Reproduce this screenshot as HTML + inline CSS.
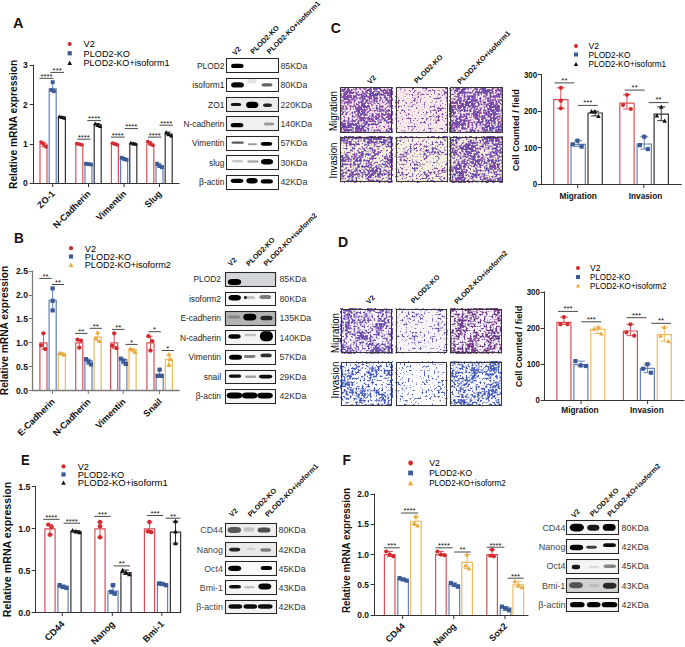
<!DOCTYPE html>
<html><head><meta charset="utf-8"><style>
html,body{margin:0;padding:0;background:#fff;}
svg{display:block;font-family:"Liberation Sans", sans-serif;}
</style></head><body>
<svg width="685" height="647" viewBox="0 0 685 647">
<defs><filter id="bl0" x="-50%" y="-100%" width="200%" height="300%"><feGaussianBlur stdDeviation="0.55"/></filter><filter id="bl1" x="-50%" y="-100%" width="200%" height="300%"><feGaussianBlur stdDeviation="0.45"/></filter><filter id="mc1" x="0" y="0" width="100%" height="100%" color-interpolation-filters="sRGB"><feTurbulence type="fractalNoise" baseFrequency="0.5" numOctaves="1" seed="10" result="t1"/><feColorMatrix in="t1" type="matrix" values="1 0 0 0 0 0 1 0 0 0 0 0 1 0 0 0 0 0 0 1" result="h"/><feTurbulence type="fractalNoise" baseFrequency="0.09" numOctaves="2" seed="60" result="t2"/><feColorMatrix in="t2" type="matrix" values="1 0 0 0 0 0 1 0 0 0 0 0 1 0 0 0 0 0 0 1" result="l"/><feComposite in="h" in2="l" operator="arithmetic" k1="0" k2="0.70" k3="0.30" k4="0" result="m"/><feColorMatrix in="m" type="matrix" values="0 0.837 0 0 0.055 0 0.086 0 0 0.249 0 -0.060 0 0 0.693 9 0 0 0 -3.870"/></filter><filter id="mc2" x="0" y="0" width="100%" height="100%" color-interpolation-filters="sRGB"><feTurbulence type="fractalNoise" baseFrequency="0.5" numOctaves="1" seed="20" result="t1"/><feColorMatrix in="t1" type="matrix" values="1 0 0 0 0 0 1 0 0 0 0 0 1 0 0 0 0 0 0 1" result="h"/><feTurbulence type="fractalNoise" baseFrequency="0.09" numOctaves="2" seed="70" result="t2"/><feColorMatrix in="t2" type="matrix" values="1 0 0 0 0 0 1 0 0 0 0 0 1 0 0 0 0 0 0 1" result="l"/><feComposite in="h" in2="l" operator="arithmetic" k1="0" k2="0.70" k3="0.30" k4="0" result="m"/><feColorMatrix in="m" type="matrix" values="0 0.811 0 0 0.055 0 0.086 0 0 0.249 0 -0.078 0 0 0.706 9 0 0 0 -4.050"/></filter><filter id="mc3" x="0" y="0" width="100%" height="100%" color-interpolation-filters="sRGB"><feTurbulence type="fractalNoise" baseFrequency="0.5" numOctaves="1" seed="11" result="t1"/><feColorMatrix in="t1" type="matrix" values="1 0 0 0 0 0 1 0 0 0 0 0 1 0 0 0 0 0 0 1" result="h"/><feTurbulence type="fractalNoise" baseFrequency="0.09" numOctaves="2" seed="61" result="t2"/><feColorMatrix in="t2" type="matrix" values="1 0 0 0 0 0 1 0 0 0 0 0 1 0 0 0 0 0 0 1" result="l"/><feComposite in="h" in2="l" operator="arithmetic" k1="0" k2="0.70" k3="0.30" k4="0" result="m"/><feColorMatrix in="m" type="matrix" values="0 0.837 0 0 0.055 0 0.086 0 0 0.249 0 -0.060 0 0 0.693 9 0 0 0 -4.815"/></filter><filter id="mc4" x="0" y="0" width="100%" height="100%" color-interpolation-filters="sRGB"><feTurbulence type="fractalNoise" baseFrequency="0.5" numOctaves="1" seed="21" result="t1"/><feColorMatrix in="t1" type="matrix" values="1 0 0 0 0 0 1 0 0 0 0 0 1 0 0 0 0 0 0 1" result="h"/><feTurbulence type="fractalNoise" baseFrequency="0.09" numOctaves="2" seed="71" result="t2"/><feColorMatrix in="t2" type="matrix" values="1 0 0 0 0 0 1 0 0 0 0 0 1 0 0 0 0 0 0 1" result="l"/><feComposite in="h" in2="l" operator="arithmetic" k1="0" k2="0.70" k3="0.30" k4="0" result="m"/><feColorMatrix in="m" type="matrix" values="0 0.811 0 0 0.055 0 0.086 0 0 0.249 0 -0.078 0 0 0.706 9 0 0 0 -4.635"/></filter><filter id="mc5" x="0" y="0" width="100%" height="100%" color-interpolation-filters="sRGB"><feTurbulence type="fractalNoise" baseFrequency="0.5" numOctaves="1" seed="12" result="t1"/><feColorMatrix in="t1" type="matrix" values="1 0 0 0 0 0 1 0 0 0 0 0 1 0 0 0 0 0 0 1" result="h"/><feTurbulence type="fractalNoise" baseFrequency="0.09" numOctaves="2" seed="62" result="t2"/><feColorMatrix in="t2" type="matrix" values="1 0 0 0 0 0 1 0 0 0 0 0 1 0 0 0 0 0 0 1" result="l"/><feComposite in="h" in2="l" operator="arithmetic" k1="0" k2="0.70" k3="0.30" k4="0" result="m"/><feColorMatrix in="m" type="matrix" values="0 0.837 0 0 0.055 0 0.086 0 0 0.249 0 -0.060 0 0 0.693 9 0 0 0 -3.780"/></filter><filter id="mc6" x="0" y="0" width="100%" height="100%" color-interpolation-filters="sRGB"><feTurbulence type="fractalNoise" baseFrequency="0.5" numOctaves="1" seed="22" result="t1"/><feColorMatrix in="t1" type="matrix" values="1 0 0 0 0 0 1 0 0 0 0 0 1 0 0 0 0 0 0 1" result="h"/><feTurbulence type="fractalNoise" baseFrequency="0.09" numOctaves="2" seed="72" result="t2"/><feColorMatrix in="t2" type="matrix" values="1 0 0 0 0 0 1 0 0 0 0 0 1 0 0 0 0 0 0 1" result="l"/><feComposite in="h" in2="l" operator="arithmetic" k1="0" k2="0.70" k3="0.30" k4="0" result="m"/><feColorMatrix in="m" type="matrix" values="0 0.811 0 0 0.055 0 0.086 0 0 0.249 0 -0.078 0 0 0.706 9 0 0 0 -3.915"/></filter><filter id="mc7" x="0" y="0" width="100%" height="100%" color-interpolation-filters="sRGB"><feTurbulence type="fractalNoise" baseFrequency="0.5" numOctaves="1" seed="30" result="t1"/><feColorMatrix in="t1" type="matrix" values="1 0 0 0 0 0 1 0 0 0 0 0 1 0 0 0 0 0 0 1" result="h"/><feTurbulence type="fractalNoise" baseFrequency="0.09" numOctaves="2" seed="80" result="t2"/><feColorMatrix in="t2" type="matrix" values="1 0 0 0 0 0 1 0 0 0 0 0 1 0 0 0 0 0 0 1" result="l"/><feComposite in="h" in2="l" operator="arithmetic" k1="0" k2="0.70" k3="0.30" k4="0" result="m"/><feColorMatrix in="m" type="matrix" values="0 0.431 0 0 0.237 0 0.173 0 0 0.232 0 0.112 0 0 0.634 9 0 0 0 -4.095"/></filter><filter id="mc8" x="0" y="0" width="100%" height="100%" color-interpolation-filters="sRGB"><feTurbulence type="fractalNoise" baseFrequency="0.5" numOctaves="1" seed="40" result="t1"/><feColorMatrix in="t1" type="matrix" values="1 0 0 0 0 0 1 0 0 0 0 0 1 0 0 0 0 0 0 1" result="h"/><feTurbulence type="fractalNoise" baseFrequency="0.09" numOctaves="2" seed="90" result="t2"/><feColorMatrix in="t2" type="matrix" values="1 0 0 0 0 0 1 0 0 0 0 0 1 0 0 0 0 0 0 1" result="l"/><feComposite in="h" in2="l" operator="arithmetic" k1="0" k2="0.70" k3="0.30" k4="0" result="m"/><feColorMatrix in="m" type="matrix" values="0 0.302 0 0 0.127 0 0.345 0 0 0.189 0 0.173 0 0 0.644 9 0 0 0 -4.365"/></filter><filter id="mc9" x="0" y="0" width="100%" height="100%" color-interpolation-filters="sRGB"><feTurbulence type="fractalNoise" baseFrequency="0.5" numOctaves="1" seed="31" result="t1"/><feColorMatrix in="t1" type="matrix" values="1 0 0 0 0 0 1 0 0 0 0 0 1 0 0 0 0 0 0 1" result="h"/><feTurbulence type="fractalNoise" baseFrequency="0.09" numOctaves="2" seed="81" result="t2"/><feColorMatrix in="t2" type="matrix" values="1 0 0 0 0 0 1 0 0 0 0 0 1 0 0 0 0 0 0 1" result="l"/><feComposite in="h" in2="l" operator="arithmetic" k1="0" k2="0.70" k3="0.30" k4="0" result="m"/><feColorMatrix in="m" type="matrix" values="0 0.259 0 0 0.299 0 0.086 0 0 0.283 0 0.043 0 0 0.671 9 0 0 0 -4.950"/></filter><filter id="mc10" x="0" y="0" width="100%" height="100%" color-interpolation-filters="sRGB"><feTurbulence type="fractalNoise" baseFrequency="0.5" numOctaves="1" seed="41" result="t1"/><feColorMatrix in="t1" type="matrix" values="1 0 0 0 0 0 1 0 0 0 0 0 1 0 0 0 0 0 0 1" result="h"/><feTurbulence type="fractalNoise" baseFrequency="0.09" numOctaves="2" seed="91" result="t2"/><feColorMatrix in="t2" type="matrix" values="1 0 0 0 0 0 1 0 0 0 0 0 1 0 0 0 0 0 0 1" result="l"/><feComposite in="h" in2="l" operator="arithmetic" k1="0" k2="0.70" k3="0.30" k4="0" result="m"/><feColorMatrix in="m" type="matrix" values="0 0.302 0 0 0.127 0 0.345 0 0 0.189 0 0.173 0 0 0.644 9 0 0 0 -5.085"/></filter><filter id="mc11" x="0" y="0" width="100%" height="100%" color-interpolation-filters="sRGB"><feTurbulence type="fractalNoise" baseFrequency="0.5" numOctaves="1" seed="32" result="t1"/><feColorMatrix in="t1" type="matrix" values="1 0 0 0 0 0 1 0 0 0 0 0 1 0 0 0 0 0 0 1" result="h"/><feTurbulence type="fractalNoise" baseFrequency="0.09" numOctaves="2" seed="82" result="t2"/><feColorMatrix in="t2" type="matrix" values="1 0 0 0 0 0 1 0 0 0 0 0 1 0 0 0 0 0 0 1" result="l"/><feComposite in="h" in2="l" operator="arithmetic" k1="0" k2="0.70" k3="0.30" k4="0" result="m"/><feColorMatrix in="m" type="matrix" values="0 0.431 0 0 0.237 0 0.043 0 0 0.200 0 -0.043 0 0 0.584 9 0 0 0 -4.140"/></filter><filter id="mc12" x="0" y="0" width="100%" height="100%" color-interpolation-filters="sRGB"><feTurbulence type="fractalNoise" baseFrequency="0.5" numOctaves="1" seed="42" result="t1"/><feColorMatrix in="t1" type="matrix" values="1 0 0 0 0 0 1 0 0 0 0 0 1 0 0 0 0 0 0 1" result="h"/><feTurbulence type="fractalNoise" baseFrequency="0.09" numOctaves="2" seed="92" result="t2"/><feColorMatrix in="t2" type="matrix" values="1 0 0 0 0 0 1 0 0 0 0 0 1 0 0 0 0 0 0 1" result="l"/><feComposite in="h" in2="l" operator="arithmetic" k1="0" k2="0.70" k3="0.30" k4="0" result="m"/><feColorMatrix in="m" type="matrix" values="0 0.302 0 0 0.127 0 0.345 0 0 0.189 0 0.173 0 0 0.644 9 0 0 0 -4.185"/></filter></defs>
<rect width="685" height="647" fill="#fff"/>
<text transform="translate(13 27.8) scale(1.04 1)" font-size="14" font-weight="bold" fill="#1a1212">A</text>
<circle cx="69.7" cy="44" r="2.1" fill="#d42a2e"/>
<text x="83.5" y="47.31" font-size="9.2">V2</text>
<rect x="67.6" y="51.2" width="4.2" height="4.2" fill="#3b5a96"/>
<text x="83.5" y="56.61" font-size="9.2">PLOD2-KO</text>
<path d="M69.7 60.61L72 64.89L67.4 64.89Z" fill="#111111"/>
<text x="83.5" y="66.21" font-size="9.2" textLength="86" lengthAdjust="spacingAndGlyphs">PLOD2-KO+isoform1</text>
<path d="M40 183.4V144H47V183.4" fill="#fff" stroke="#dc4f58" stroke-width="1.2"/>
<path d="M49.2 183.4V88.84H56.2V183.4" fill="#fff" stroke="#6381b5" stroke-width="1.2"/>
<path d="M58.4 183.4V117.21H65.4V183.4" fill="#fff" stroke="#333333" stroke-width="1.2"/>
<path d="M75.8 183.4V144H82.8V183.4" fill="#fff" stroke="#dc4f58" stroke-width="1.2"/>
<path d="M85 183.4V164.09H92V183.4" fill="#fff" stroke="#6381b5" stroke-width="1.2"/>
<path d="M94.2 183.4V124.69H101.2V183.4" fill="#fff" stroke="#333333" stroke-width="1.2"/>
<path d="M111.4 183.4V144H118.4V183.4" fill="#fff" stroke="#dc4f58" stroke-width="1.2"/>
<path d="M120.6 183.4V158.58H127.6V183.4" fill="#fff" stroke="#6381b5" stroke-width="1.2"/>
<path d="M129.8 183.4V143.61H136.8V183.4" fill="#fff" stroke="#333333" stroke-width="1.2"/>
<path d="M146.8 183.4V144H153.8V183.4" fill="#fff" stroke="#dc4f58" stroke-width="1.2"/>
<path d="M156 183.4V165.67H163V183.4" fill="#fff" stroke="#6381b5" stroke-width="1.2"/>
<path d="M165.2 183.4V134.15H172.2V183.4" fill="#fff" stroke="#333333" stroke-width="1.2"/>
<line x1="43.5" y1="142.03" x2="43.5" y2="146.76" stroke="#dc4f58" stroke-width="1"/>
<line x1="41.37" y1="142.03" x2="45.63" y2="142.03" stroke="#dc4f58" stroke-width="1"/>
<line x1="41.37" y1="146.76" x2="45.63" y2="146.76" stroke="#dc4f58" stroke-width="1"/>
<circle cx="41.04" cy="142.03" r="1.9" fill="#d42a2e"/>
<circle cx="43.5" cy="144" r="1.9" fill="#d42a2e"/>
<circle cx="45.96" cy="146.76" r="1.9" fill="#d42a2e"/>
<line x1="52.7" y1="82.14" x2="52.7" y2="91.2" stroke="#6381b5" stroke-width="1"/>
<line x1="50.57" y1="82.14" x2="54.83" y2="82.14" stroke="#6381b5" stroke-width="1"/>
<line x1="50.57" y1="91.2" x2="54.83" y2="91.2" stroke="#6381b5" stroke-width="1"/>
<rect x="50.8" y="80.24" width="3.8" height="3.8" fill="#3b5a96"/>
<rect x="49.57" y="88.12" width="3.8" height="3.8" fill="#3b5a96"/>
<rect x="52.03" y="89.3" width="3.8" height="3.8" fill="#3b5a96"/>
<line x1="61.9" y1="116.42" x2="61.9" y2="118" stroke="#333333" stroke-width="1"/>
<line x1="59.77" y1="116.42" x2="64.03" y2="116.42" stroke="#333333" stroke-width="1"/>
<line x1="59.77" y1="118" x2="64.03" y2="118" stroke="#333333" stroke-width="1"/>
<path d="M59.44 114.32L61.54 118.23L57.34 118.23Z" fill="#111111"/>
<path d="M61.9 115.1L64 119.01L59.8 119.01Z" fill="#111111"/>
<path d="M64.36 115.89L66.46 119.8L62.26 119.8Z" fill="#111111"/>
<line x1="79.3" y1="143.61" x2="79.3" y2="144.79" stroke="#dc4f58" stroke-width="1"/>
<line x1="77.17" y1="143.61" x2="81.43" y2="143.61" stroke="#dc4f58" stroke-width="1"/>
<line x1="77.17" y1="144.79" x2="81.43" y2="144.79" stroke="#dc4f58" stroke-width="1"/>
<circle cx="76.84" cy="143.61" r="1.9" fill="#d42a2e"/>
<circle cx="79.3" cy="144.2" r="1.9" fill="#d42a2e"/>
<circle cx="81.76" cy="144.79" r="1.9" fill="#d42a2e"/>
<line x1="88.5" y1="163.7" x2="88.5" y2="164.49" stroke="#6381b5" stroke-width="1"/>
<line x1="86.37" y1="163.7" x2="90.63" y2="163.7" stroke="#6381b5" stroke-width="1"/>
<line x1="86.37" y1="164.49" x2="90.63" y2="164.49" stroke="#6381b5" stroke-width="1"/>
<rect x="84.14" y="161.8" width="3.8" height="3.8" fill="#3b5a96"/>
<rect x="86.6" y="162.19" width="3.8" height="3.8" fill="#3b5a96"/>
<rect x="89.06" y="162.59" width="3.8" height="3.8" fill="#3b5a96"/>
<line x1="97.7" y1="123.51" x2="97.7" y2="126.27" stroke="#333333" stroke-width="1"/>
<line x1="95.57" y1="123.51" x2="99.83" y2="123.51" stroke="#333333" stroke-width="1"/>
<line x1="95.57" y1="126.27" x2="99.83" y2="126.27" stroke="#333333" stroke-width="1"/>
<path d="M95.24 121.41L97.34 125.32L93.14 125.32Z" fill="#111111"/>
<path d="M97.7 122.98L99.8 126.89L95.6 126.89Z" fill="#111111"/>
<path d="M100.16 124.17L102.26 128.08L98.06 128.08Z" fill="#111111"/>
<line x1="114.9" y1="143.21" x2="114.9" y2="144.79" stroke="#dc4f58" stroke-width="1"/>
<line x1="112.77" y1="143.21" x2="117.03" y2="143.21" stroke="#dc4f58" stroke-width="1"/>
<line x1="112.77" y1="144.79" x2="117.03" y2="144.79" stroke="#dc4f58" stroke-width="1"/>
<circle cx="112.44" cy="143.21" r="1.9" fill="#d42a2e"/>
<circle cx="114.9" cy="144" r="1.9" fill="#d42a2e"/>
<circle cx="117.36" cy="144.79" r="1.9" fill="#d42a2e"/>
<line x1="124.1" y1="157.79" x2="124.1" y2="159.76" stroke="#6381b5" stroke-width="1"/>
<line x1="121.97" y1="157.79" x2="126.23" y2="157.79" stroke="#6381b5" stroke-width="1"/>
<line x1="121.97" y1="159.76" x2="126.23" y2="159.76" stroke="#6381b5" stroke-width="1"/>
<rect x="119.74" y="155.89" width="3.8" height="3.8" fill="#3b5a96"/>
<rect x="122.2" y="157.07" width="3.8" height="3.8" fill="#3b5a96"/>
<rect x="124.66" y="157.86" width="3.8" height="3.8" fill="#3b5a96"/>
<line x1="133.3" y1="142.82" x2="133.3" y2="144" stroke="#333333" stroke-width="1"/>
<line x1="131.17" y1="142.82" x2="135.43" y2="142.82" stroke="#333333" stroke-width="1"/>
<line x1="131.17" y1="144" x2="135.43" y2="144" stroke="#333333" stroke-width="1"/>
<path d="M130.84 140.71L132.94 144.62L128.74 144.62Z" fill="#111111"/>
<path d="M133.3 141.5L135.4 145.41L131.2 145.41Z" fill="#111111"/>
<path d="M135.76 141.89L137.86 145.81L133.66 145.81Z" fill="#111111"/>
<line x1="150.3" y1="141.64" x2="150.3" y2="145.18" stroke="#dc4f58" stroke-width="1"/>
<line x1="148.17" y1="141.64" x2="152.43" y2="141.64" stroke="#dc4f58" stroke-width="1"/>
<line x1="148.17" y1="145.18" x2="152.43" y2="145.18" stroke="#dc4f58" stroke-width="1"/>
<circle cx="147.84" cy="141.64" r="1.9" fill="#d42a2e"/>
<circle cx="150.3" cy="143.61" r="1.9" fill="#d42a2e"/>
<circle cx="152.76" cy="145.18" r="1.9" fill="#d42a2e"/>
<line x1="159.5" y1="163.7" x2="159.5" y2="167.25" stroke="#6381b5" stroke-width="1"/>
<line x1="157.37" y1="163.7" x2="161.63" y2="163.7" stroke="#6381b5" stroke-width="1"/>
<line x1="157.37" y1="167.25" x2="161.63" y2="167.25" stroke="#6381b5" stroke-width="1"/>
<rect x="155.14" y="161.8" width="3.8" height="3.8" fill="#3b5a96"/>
<rect x="157.6" y="164.16" width="3.8" height="3.8" fill="#3b5a96"/>
<rect x="160.06" y="165.35" width="3.8" height="3.8" fill="#3b5a96"/>
<line x1="168.7" y1="132.18" x2="168.7" y2="135.73" stroke="#333333" stroke-width="1"/>
<line x1="166.57" y1="132.18" x2="170.83" y2="132.18" stroke="#333333" stroke-width="1"/>
<line x1="166.57" y1="135.73" x2="170.83" y2="135.73" stroke="#333333" stroke-width="1"/>
<path d="M166.24 130.07L168.34 133.99L164.14 133.99Z" fill="#111111"/>
<path d="M168.7 132.04L170.8 135.96L166.6 135.96Z" fill="#111111"/>
<path d="M171.16 133.62L173.26 137.53L169.06 137.53Z" fill="#111111"/>
<line x1="33.5" y1="64.7" x2="33.5" y2="184" stroke="#333" stroke-width="1"/>
<line x1="33" y1="183.5" x2="179.5" y2="183.5" stroke="#333" stroke-width="1"/>
<line x1="29.7" y1="183.5" x2="33.5" y2="183.5" stroke="#333" stroke-width="1"/>
<text x="27.8" y="186.46" font-size="8.5" text-anchor="end" font-weight="bold" fill="#111">0</text>
<line x1="29.7" y1="144.5" x2="33.5" y2="144.5" stroke="#333" stroke-width="1"/>
<text x="27.8" y="147.06" font-size="8.5" text-anchor="end" font-weight="bold" fill="#111">1</text>
<line x1="29.7" y1="104.5" x2="33.5" y2="104.5" stroke="#333" stroke-width="1"/>
<text x="27.8" y="107.66" font-size="8.5" text-anchor="end" font-weight="bold" fill="#111">2</text>
<line x1="29.7" y1="65.5" x2="33.5" y2="65.5" stroke="#333" stroke-width="1"/>
<text x="27.8" y="68.26" font-size="8.5" text-anchor="end" font-weight="bold" fill="#111">3</text>
<line x1="52.7" y1="183.5" x2="52.7" y2="187" stroke="#333" stroke-width="1"/>
<line x1="88.5" y1="183.5" x2="88.5" y2="187" stroke="#333" stroke-width="1"/>
<line x1="124.1" y1="183.5" x2="124.1" y2="187" stroke="#333" stroke-width="1"/>
<line x1="159.5" y1="183.5" x2="159.5" y2="187" stroke="#333" stroke-width="1"/>
<line x1="39.4" y1="78.3" x2="53.5" y2="78.3" stroke="#333" stroke-width="0.9"/>
<text x="46.45" y="78.7" font-size="7.8" text-anchor="middle" fill="#111">****</text>
<line x1="50.3" y1="72.4" x2="64" y2="72.4" stroke="#333" stroke-width="0.9"/>
<text x="57.15" y="72.8" font-size="7.8" text-anchor="middle" fill="#111">***</text>
<line x1="77.3" y1="139.2" x2="90.4" y2="139.2" stroke="#333" stroke-width="0.9"/>
<text x="83.85" y="139.6" font-size="7.8" text-anchor="middle" fill="#111">****</text>
<line x1="87.3" y1="120.6" x2="101" y2="120.6" stroke="#333" stroke-width="0.9"/>
<text x="94.15" y="121" font-size="7.8" text-anchor="middle" fill="#111">****</text>
<line x1="111" y1="137.1" x2="124.7" y2="137.1" stroke="#333" stroke-width="0.9"/>
<text x="117.85" y="137.5" font-size="7.8" text-anchor="middle" fill="#111">****</text>
<line x1="124.7" y1="128.6" x2="137.9" y2="128.6" stroke="#333" stroke-width="0.9"/>
<text x="131.3" y="129" font-size="7.8" text-anchor="middle" fill="#111">****</text>
<line x1="148" y1="137.1" x2="161.5" y2="137.1" stroke="#333" stroke-width="0.9"/>
<text x="154.75" y="137.5" font-size="7.8" text-anchor="middle" fill="#111">****</text>
<line x1="159.5" y1="125.2" x2="173" y2="125.2" stroke="#333" stroke-width="0.9"/>
<text x="166.25" y="125.6" font-size="7.8" text-anchor="middle" fill="#111">****</text>
<text x="55.5" y="194.3" font-size="9.1" text-anchor="end" font-weight="bold" fill="#111" transform="rotate(-45 55.5 194.3)">ZO-1</text>
<text x="91.3" y="194.3" font-size="9.1" text-anchor="end" font-weight="bold" fill="#111" transform="rotate(-45 91.3 194.3)">N-Cadherin</text>
<text x="126.9" y="194.3" font-size="9.1" text-anchor="end" font-weight="bold" fill="#111" transform="rotate(-45 126.9 194.3)">Vimentin</text>
<text x="162.3" y="194.3" font-size="9.1" text-anchor="end" font-weight="bold" fill="#111" transform="rotate(-45 162.3 194.3)">Slug</text>
<text x="17.3" y="124.3" font-size="10.2" text-anchor="middle" font-weight="bold" fill="#111" transform="rotate(-90 17.3 124.3)" textLength="129.2" lengthAdjust="spacingAndGlyphs">Relative mRNA expression</text>
<text x="235.16" y="55.7" font-size="7.2" font-weight="bold" fill="#111" transform="rotate(-45 235.16 55.7)">V2</text>
<text x="253.26" y="54.5" font-size="7.2" font-weight="bold" fill="#111" transform="rotate(-45 253.26 54.5)">PLOD2-KO</text>
<text x="269.86" y="54.5" font-size="7.2" font-weight="bold" fill="#111" transform="rotate(-45 269.86 54.5)">PLOD2-KO+isoform1</text>
<rect x="226.1" y="58.3" width="52.5" height="14.8" fill="#fff"/>
<rect x="231.1" y="63.7" width="12.4" height="4.4" rx="3.3" ry="2.2" fill="#000" opacity="1.00" filter="url(#bl0)"/>
<rect x="226.5" y="58.5" width="52" height="14" fill="none" stroke="#2b2626" stroke-width="1.05"/>
<text x="224.4" y="68.72" font-size="8.4" text-anchor="end" fill="#1e1e1e">PLOD2</text>
<text x="280.4" y="68.87" font-size="8.8" fill="#333">85KDa</text>
<rect x="226.1" y="77.7" width="52.5" height="14.8" fill="#fff"/>
<rect x="231.05" y="82.2" width="12.9" height="5.4" rx="4.05" ry="2.7" fill="#000" opacity="0.95" filter="url(#bl0)"/>
<rect x="247.2" y="79" width="9.6" height="4.6" rx="3.2" ry="2.3" fill="#000" opacity="0.10" filter="url(#bl0)"/>
<rect x="261.45" y="83.2" width="11.1" height="3.4" rx="2.55" ry="1.7" fill="#000" opacity="0.60" filter="url(#bl0)"/>
<rect x="226.5" y="78.5" width="52" height="13" fill="none" stroke="#2b2626" stroke-width="1.05"/>
<text x="224.4" y="88.12" font-size="8.4" text-anchor="end" fill="#1e1e1e">isoform1</text>
<text x="280.4" y="88.27" font-size="8.8" fill="#333">80KDa</text>
<rect x="226.1" y="97.1" width="52.5" height="14.8" fill="#ececec"/>
<rect x="230.7" y="103.1" width="10.6" height="3" rx="2.25" ry="1.5" fill="#000" opacity="0.90" filter="url(#bl1)"/>
<rect x="246.1" y="101.75" width="12.2" height="6.3" rx="4.07" ry="3.15" fill="#000" opacity="1.00" filter="url(#bl0)"/>
<rect x="262.95" y="103.6" width="9.1" height="3.4" rx="2.55" ry="1.7" fill="#000" opacity="0.85" filter="url(#bl0)"/>
<rect x="226.5" y="97.5" width="52" height="14" fill="none" stroke="#2b2626" stroke-width="1.05"/>
<text x="224.4" y="107.52" font-size="8.4" text-anchor="end" fill="#1e1e1e">ZO1</text>
<text x="280.4" y="107.67" font-size="8.8" fill="#333">220KDa</text>
<rect x="226.1" y="116.5" width="52.5" height="14.8" fill="#f0f0f0"/>
<rect x="230.7" y="123.1" width="12.6" height="4.2" rx="3.15" ry="2.1" fill="#000" opacity="1.00" filter="url(#bl0)"/>
<rect x="263.7" y="122.5" width="10.6" height="3" rx="2.25" ry="1.5" fill="#000" opacity="0.35" filter="url(#bl1)"/>
<rect x="226.5" y="116.5" width="52" height="14" fill="none" stroke="#2b2626" stroke-width="1.05"/>
<text x="224.4" y="126.92" font-size="8.4" text-anchor="end" fill="#1e1e1e">N-cadherin</text>
<text x="280.4" y="127.07" font-size="8.8" fill="#333">140KDa</text>
<rect x="226.1" y="135.9" width="52.5" height="14.8" fill="#fff"/>
<rect x="231.4" y="141.4" width="12.6" height="2.4" rx="1.8" ry="1.2" fill="#000" opacity="0.65" filter="url(#bl1)"/>
<rect x="247.95" y="143.15" width="9.1" height="2.1" rx="1.58" ry="1.05" fill="#000" opacity="0.40" filter="url(#bl1)"/>
<rect x="260.7" y="141.95" width="11.6" height="3.7" rx="2.78" ry="1.85" fill="#000" opacity="1.00" filter="url(#bl0)"/>
<rect x="226.5" y="136.5" width="52" height="14" fill="none" stroke="#2b2626" stroke-width="1.05"/>
<text x="224.4" y="146.32" font-size="8.4" text-anchor="end" fill="#1e1e1e">Vimentin</text>
<text x="280.4" y="146.47" font-size="8.8" fill="#333">57KDa</text>
<rect x="226.1" y="155.3" width="52.5" height="14.8" fill="#fbfbfb"/>
<rect x="231.95" y="160" width="11.1" height="2.4" rx="1.8" ry="1.2" fill="#000" opacity="0.20" filter="url(#bl1)"/>
<rect x="247.2" y="160.3" width="11.6" height="2.4" rx="1.8" ry="1.2" fill="#000" opacity="0.30" filter="url(#bl1)"/>
<rect x="260.95" y="159.05" width="12.1" height="5.5" rx="4.03" ry="2.75" fill="#000" opacity="1.00" filter="url(#bl0)"/>
<rect x="226.5" y="155.5" width="52" height="14" fill="none" stroke="#2b2626" stroke-width="1.05"/>
<text x="224.4" y="165.72" font-size="8.4" text-anchor="end" fill="#1e1e1e">slug</text>
<text x="280.4" y="165.87" font-size="8.8" fill="#333">30KDa</text>
<rect x="226.1" y="174.7" width="52.5" height="14.8" fill="#fff"/>
<rect x="230.7" y="178.7" width="12.6" height="4.2" rx="3.15" ry="2.1" fill="#000" opacity="1.00" filter="url(#bl0)"/>
<rect x="246.35" y="178.05" width="11.3" height="5.5" rx="3.77" ry="2.75" fill="#000" opacity="1.00" filter="url(#bl0)"/>
<rect x="260.75" y="179.25" width="12.1" height="4.3" rx="3.22" ry="2.15" fill="#000" opacity="1.00" filter="url(#bl0)"/>
<rect x="226.5" y="175.5" width="52" height="14" fill="none" stroke="#2b2626" stroke-width="1.05"/>
<text x="224.4" y="185.12" font-size="8.4" text-anchor="end" fill="#1e1e1e">β-actin</text>
<text x="280.4" y="185.27" font-size="8.8" fill="#333">42KDa</text>
<text transform="translate(14 242.6) scale(0.92 1)" font-size="14.8" font-weight="bold" fill="#1a1212">B</text>
<circle cx="71" cy="248.2" r="2.1" fill="#d42a2e"/>
<text x="84.8" y="251.51" font-size="9.2">V2</text>
<rect x="68.9" y="254.4" width="4.2" height="4.2" fill="#3b5a96"/>
<text x="84.8" y="259.81" font-size="9.2">PLOD2-KO</text>
<path d="M71 262.6L73.3 266.89L68.7 266.89Z" fill="#e8a93a"/>
<text x="84.8" y="268.21" font-size="9.2" textLength="86" lengthAdjust="spacingAndGlyphs">PLOD2-KO+isoform2</text>
<path d="M39.9 390.7V342.9H47V390.7" fill="#fff" stroke="#dc4f58" stroke-width="1.2"/>
<path d="M49.1 390.7V300.36H56.2V390.7" fill="#fff" stroke="#6381b5" stroke-width="1.2"/>
<path d="M58.3 390.7V353.89H65.4V390.7" fill="#fff" stroke="#edbb5c" stroke-width="1.2"/>
<path d="M75.7 390.7V342.9H82.8V390.7" fill="#fff" stroke="#dc4f58" stroke-width="1.2"/>
<path d="M84.9 390.7V360.59H92V390.7" fill="#fff" stroke="#6381b5" stroke-width="1.2"/>
<path d="M94.1 390.7V337.16H101.2V390.7" fill="#fff" stroke="#edbb5c" stroke-width="1.2"/>
<path d="M110.6 390.7V342.9H117.7V390.7" fill="#fff" stroke="#dc4f58" stroke-width="1.2"/>
<path d="M119.8 390.7V359.63H126.9V390.7" fill="#fff" stroke="#6381b5" stroke-width="1.2"/>
<path d="M129 390.7V349.59H136.1V390.7" fill="#fff" stroke="#edbb5c" stroke-width="1.2"/>
<path d="M146.9 390.7V342.9H154V390.7" fill="#fff" stroke="#dc4f58" stroke-width="1.2"/>
<path d="M156.1 390.7V374.45H163.2V390.7" fill="#fff" stroke="#6381b5" stroke-width="1.2"/>
<path d="M165.3 390.7V359.63H172.4V390.7" fill="#fff" stroke="#edbb5c" stroke-width="1.2"/>
<line x1="43.45" y1="333.34" x2="43.45" y2="349.11" stroke="#dc4f58" stroke-width="1"/>
<line x1="41.29" y1="333.34" x2="45.61" y2="333.34" stroke="#dc4f58" stroke-width="1"/>
<line x1="41.29" y1="349.11" x2="45.61" y2="349.11" stroke="#dc4f58" stroke-width="1"/>
<circle cx="43.45" cy="333.34" r="2.1" fill="#d42a2e"/>
<circle cx="41.25" cy="345.29" r="2.1" fill="#d42a2e"/>
<circle cx="45.25" cy="349.11" r="2.1" fill="#d42a2e"/>
<line x1="52.65" y1="288.41" x2="52.65" y2="310.4" stroke="#6381b5" stroke-width="1"/>
<line x1="50.49" y1="288.41" x2="54.81" y2="288.41" stroke="#6381b5" stroke-width="1"/>
<line x1="50.49" y1="310.4" x2="54.81" y2="310.4" stroke="#6381b5" stroke-width="1"/>
<rect x="50.55" y="286.31" width="4.2" height="4.2" fill="#3b5a96"/>
<rect x="50.55" y="298.74" width="4.2" height="4.2" fill="#3b5a96"/>
<rect x="50.55" y="308.3" width="4.2" height="4.2" fill="#3b5a96"/>
<line x1="61.85" y1="352.94" x2="61.85" y2="354.85" stroke="#edbb5c" stroke-width="1"/>
<line x1="59.69" y1="352.94" x2="64.01" y2="352.94" stroke="#edbb5c" stroke-width="1"/>
<line x1="59.69" y1="354.85" x2="64.01" y2="354.85" stroke="#edbb5c" stroke-width="1"/>
<path d="M59.36 350.64L61.66 354.93L57.06 354.93Z" fill="#e8a93a"/>
<path d="M61.85 351.12L64.15 355.41L59.55 355.41Z" fill="#e8a93a"/>
<path d="M64.34 352.56L66.64 356.85L62.04 356.85Z" fill="#e8a93a"/>
<line x1="79.25" y1="339.55" x2="79.25" y2="347.68" stroke="#dc4f58" stroke-width="1"/>
<line x1="77.09" y1="339.55" x2="81.41" y2="339.55" stroke="#dc4f58" stroke-width="1"/>
<line x1="77.09" y1="347.68" x2="81.41" y2="347.68" stroke="#dc4f58" stroke-width="1"/>
<circle cx="77.45" cy="339.55" r="2.1" fill="#d42a2e"/>
<circle cx="81.05" cy="340.51" r="2.1" fill="#d42a2e"/>
<circle cx="79.25" cy="347.68" r="2.1" fill="#d42a2e"/>
<line x1="88.45" y1="359.15" x2="88.45" y2="364.41" stroke="#6381b5" stroke-width="1"/>
<line x1="86.29" y1="359.15" x2="90.61" y2="359.15" stroke="#6381b5" stroke-width="1"/>
<line x1="86.29" y1="364.41" x2="90.61" y2="364.41" stroke="#6381b5" stroke-width="1"/>
<rect x="83.86" y="357.05" width="4.2" height="4.2" fill="#3b5a96"/>
<rect x="86.35" y="359.44" width="4.2" height="4.2" fill="#3b5a96"/>
<rect x="88.84" y="362.31" width="4.2" height="4.2" fill="#3b5a96"/>
<line x1="97.65" y1="332.38" x2="97.65" y2="340.99" stroke="#edbb5c" stroke-width="1"/>
<line x1="95.49" y1="332.38" x2="99.81" y2="332.38" stroke="#edbb5c" stroke-width="1"/>
<line x1="95.49" y1="340.99" x2="99.81" y2="340.99" stroke="#edbb5c" stroke-width="1"/>
<path d="M97.65 330.09L99.95 334.38L95.35 334.38Z" fill="#e8a93a"/>
<path d="M95.85 335.82L98.15 340.12L93.55 340.12Z" fill="#e8a93a"/>
<path d="M99.45 338.69L101.75 342.98L97.15 342.98Z" fill="#e8a93a"/>
<line x1="114.15" y1="333.34" x2="114.15" y2="348.16" stroke="#dc4f58" stroke-width="1"/>
<line x1="111.99" y1="333.34" x2="116.31" y2="333.34" stroke="#dc4f58" stroke-width="1"/>
<line x1="111.99" y1="348.16" x2="116.31" y2="348.16" stroke="#dc4f58" stroke-width="1"/>
<circle cx="114.15" cy="333.34" r="2.1" fill="#d42a2e"/>
<circle cx="112.35" cy="345.77" r="2.1" fill="#d42a2e"/>
<circle cx="116.45" cy="348.16" r="2.1" fill="#d42a2e"/>
<line x1="123.35" y1="358.67" x2="123.35" y2="363.93" stroke="#6381b5" stroke-width="1"/>
<line x1="121.19" y1="358.67" x2="125.51" y2="358.67" stroke="#6381b5" stroke-width="1"/>
<line x1="121.19" y1="363.93" x2="125.51" y2="363.93" stroke="#6381b5" stroke-width="1"/>
<rect x="118.76" y="356.57" width="4.2" height="4.2" fill="#3b5a96"/>
<rect x="121.25" y="358.96" width="4.2" height="4.2" fill="#3b5a96"/>
<rect x="123.74" y="361.83" width="4.2" height="4.2" fill="#3b5a96"/>
<line x1="132.55" y1="348.64" x2="132.55" y2="351.98" stroke="#edbb5c" stroke-width="1"/>
<line x1="130.39" y1="348.64" x2="134.71" y2="348.64" stroke="#edbb5c" stroke-width="1"/>
<line x1="130.39" y1="351.98" x2="134.71" y2="351.98" stroke="#edbb5c" stroke-width="1"/>
<path d="M130.06 346.34L132.36 350.63L127.76 350.63Z" fill="#e8a93a"/>
<path d="M132.55 347.3L134.85 351.59L130.25 351.59Z" fill="#e8a93a"/>
<path d="M135.04 349.69L137.34 353.98L132.74 353.98Z" fill="#e8a93a"/>
<line x1="150.45" y1="336.21" x2="150.45" y2="350.55" stroke="#dc4f58" stroke-width="1"/>
<line x1="148.29" y1="336.21" x2="152.61" y2="336.21" stroke="#dc4f58" stroke-width="1"/>
<line x1="148.29" y1="350.55" x2="152.61" y2="350.55" stroke="#dc4f58" stroke-width="1"/>
<circle cx="148.35" cy="336.21" r="2.1" fill="#d42a2e"/>
<circle cx="152.25" cy="340.99" r="2.1" fill="#d42a2e"/>
<circle cx="150.45" cy="350.55" r="2.1" fill="#d42a2e"/>
<line x1="159.65" y1="369.67" x2="159.65" y2="375.88" stroke="#6381b5" stroke-width="1"/>
<line x1="157.49" y1="369.67" x2="161.81" y2="369.67" stroke="#6381b5" stroke-width="1"/>
<line x1="157.49" y1="375.88" x2="161.81" y2="375.88" stroke="#6381b5" stroke-width="1"/>
<rect x="157.55" y="367.57" width="4.2" height="4.2" fill="#3b5a96"/>
<rect x="155.55" y="373.78" width="4.2" height="4.2" fill="#3b5a96"/>
<rect x="159.55" y="373.78" width="4.2" height="4.2" fill="#3b5a96"/>
<line x1="168.85" y1="354.37" x2="168.85" y2="364.89" stroke="#edbb5c" stroke-width="1"/>
<line x1="166.69" y1="354.37" x2="171.01" y2="354.37" stroke="#edbb5c" stroke-width="1"/>
<line x1="166.69" y1="364.89" x2="171.01" y2="364.89" stroke="#edbb5c" stroke-width="1"/>
<path d="M168.85 352.08L171.15 356.37L166.55 356.37Z" fill="#e8a93a"/>
<path d="M170.55 356.86L172.85 361.15L168.25 361.15Z" fill="#e8a93a"/>
<path d="M168.85 362.59L171.15 366.88L166.55 366.88Z" fill="#e8a93a"/>
<line x1="32.5" y1="270.7" x2="32.5" y2="391" stroke="#7a7a7a" stroke-width="1.3"/>
<line x1="32" y1="390.5" x2="179.6" y2="390.5" stroke="#7a7a7a" stroke-width="1.3"/>
<line x1="28.7" y1="390.5" x2="32.5" y2="390.5" stroke="#7a7a7a" stroke-width="1"/>
<text x="28" y="393.8" font-size="8.6" text-anchor="end" font-weight="bold" fill="#111">0.0</text>
<line x1="28.7" y1="366.5" x2="32.5" y2="366.5" stroke="#7a7a7a" stroke-width="1"/>
<text x="28" y="369.9" font-size="8.6" text-anchor="end" font-weight="bold" fill="#111">0.5</text>
<line x1="28.7" y1="342.5" x2="32.5" y2="342.5" stroke="#7a7a7a" stroke-width="1"/>
<text x="28" y="346" font-size="8.6" text-anchor="end" font-weight="bold" fill="#111">1.0</text>
<line x1="28.7" y1="318.5" x2="32.5" y2="318.5" stroke="#7a7a7a" stroke-width="1"/>
<text x="28" y="322.1" font-size="8.6" text-anchor="end" font-weight="bold" fill="#111">1.5</text>
<line x1="28.7" y1="295.5" x2="32.5" y2="295.5" stroke="#7a7a7a" stroke-width="1"/>
<text x="28" y="298.2" font-size="8.6" text-anchor="end" font-weight="bold" fill="#111">2.0</text>
<line x1="28.7" y1="271.5" x2="32.5" y2="271.5" stroke="#7a7a7a" stroke-width="1"/>
<text x="28" y="274.3" font-size="8.6" text-anchor="end" font-weight="bold" fill="#111">2.5</text>
<line x1="52.5" y1="390.5" x2="52.5" y2="394" stroke="#7a7a7a" stroke-width="1"/>
<line x1="88.3" y1="390.5" x2="88.3" y2="394" stroke="#7a7a7a" stroke-width="1"/>
<line x1="123.2" y1="390.5" x2="123.2" y2="394" stroke="#7a7a7a" stroke-width="1"/>
<line x1="159.5" y1="390.5" x2="159.5" y2="394" stroke="#7a7a7a" stroke-width="1"/>
<line x1="39.3" y1="278.4" x2="51.6" y2="278.4" stroke="#333" stroke-width="0.9"/>
<text x="45.45" y="278.8" font-size="7.8" text-anchor="middle" fill="#111">**</text>
<line x1="52" y1="284.5" x2="64" y2="284.5" stroke="#333" stroke-width="0.9"/>
<text x="58" y="284.9" font-size="7.8" text-anchor="middle" fill="#111">**</text>
<line x1="75.1" y1="333.4" x2="87.5" y2="333.4" stroke="#333" stroke-width="0.9"/>
<text x="81.3" y="333.8" font-size="7.8" text-anchor="middle" fill="#111">**</text>
<line x1="89.6" y1="328.3" x2="102" y2="328.3" stroke="#333" stroke-width="0.9"/>
<text x="95.8" y="328.7" font-size="7.8" text-anchor="middle" fill="#111">**</text>
<line x1="112.1" y1="329.4" x2="124.5" y2="329.4" stroke="#333" stroke-width="0.9"/>
<text x="118.3" y="329.8" font-size="7.8" text-anchor="middle" fill="#111">**</text>
<line x1="125.5" y1="344.4" x2="137.6" y2="344.4" stroke="#333" stroke-width="0.9"/>
<text x="131.55" y="344.8" font-size="7.8" text-anchor="middle" fill="#111">*</text>
<line x1="148.4" y1="331.7" x2="160.8" y2="331.7" stroke="#333" stroke-width="0.9"/>
<text x="154.6" y="332.1" font-size="7.8" text-anchor="middle" fill="#111">*</text>
<line x1="161.6" y1="350.5" x2="173.9" y2="350.5" stroke="#333" stroke-width="0.9"/>
<text x="167.75" y="350.9" font-size="7.8" text-anchor="middle" fill="#111">*</text>
<text x="55.5" y="402.2" font-size="9.1" text-anchor="end" font-weight="bold" fill="#111" transform="rotate(-45 55.5 402.2)">E-Cadherin</text>
<text x="91.3" y="402.2" font-size="9.1" text-anchor="end" font-weight="bold" fill="#111" transform="rotate(-45 91.3 402.2)">N-Cadherin</text>
<text x="126.2" y="402.2" font-size="9.1" text-anchor="end" font-weight="bold" fill="#111" transform="rotate(-45 126.2 402.2)">Vimentin</text>
<text x="162.5" y="402.2" font-size="9.1" text-anchor="end" font-weight="bold" fill="#111" transform="rotate(-45 162.5 402.2)">Snail</text>
<text x="8.2" y="330.5" font-size="10.2" text-anchor="middle" font-weight="bold" fill="#111" transform="rotate(-90 8.2 330.5)" textLength="129.4" lengthAdjust="spacingAndGlyphs">Relative mRNA expression</text>
<text x="230.86" y="266.6" font-size="7.2" font-weight="bold" fill="#111" transform="rotate(-45 230.86 266.6)">V2</text>
<text x="249.06" y="266.6" font-size="7.2" font-weight="bold" fill="#111" transform="rotate(-45 249.06 266.6)">PLOD2-KO</text>
<text x="266.56" y="266.6" font-size="7.2" font-weight="bold" fill="#111" transform="rotate(-45 266.56 266.6)">PLOD2-KO+isoform2</text>
<rect x="224.8" y="272" width="51.7" height="14.6" fill="#d2d5d9"/>
<rect x="227.8" y="278.95" width="13.4" height="6.1" rx="4.47" ry="3.05" fill="#000" opacity="1.00" filter="url(#bl0)"/>
<rect x="225.5" y="272.5" width="50" height="14" fill="none" stroke="#2b2626" stroke-width="1.05"/>
<text x="221" y="282.32" font-size="8.4" text-anchor="end" fill="#1e1e1e">PLOD2</text>
<text x="279.4" y="282.47" font-size="8.8" fill="#333">85KDa</text>
<rect x="224.8" y="291.5" width="51.7" height="14.6" fill="#f8f8f8"/>
<rect x="228.5" y="295" width="12.4" height="5.4" rx="4.05" ry="2.7" fill="#000" opacity="1.00" filter="url(#bl0)"/>
<rect x="243.85" y="295.95" width="3.1" height="3.1" rx="1.03" ry="1.55" fill="#000" opacity="0.80" filter="url(#bl1)"/>
<rect x="244.7" y="295.95" width="10.6" height="3.1" rx="2.33" ry="1.55" fill="#000" opacity="0.20" filter="url(#bl1)"/>
<rect x="259.5" y="295" width="11.6" height="4" rx="3" ry="2" fill="#000" opacity="0.50" filter="url(#bl0)"/>
<rect x="225.5" y="292.5" width="50" height="13" fill="none" stroke="#2b2626" stroke-width="1.05"/>
<text x="221" y="301.82" font-size="8.4" text-anchor="end" fill="#1e1e1e">isoform2</text>
<text x="279.4" y="301.97" font-size="8.8" fill="#333">80KDa</text>
<rect x="224.8" y="311" width="51.7" height="14.6" fill="#b4b4b4"/>
<rect x="227.7" y="315.2" width="12.6" height="3.6" rx="2.7" ry="1.8" fill="#000" opacity="0.25" filter="url(#bl0)"/>
<rect x="243.25" y="313.7" width="13.1" height="6.8" rx="4.37" ry="3.4" fill="#000" opacity="1.00" filter="url(#bl0)"/>
<rect x="260.45" y="315.7" width="12.1" height="4.6" rx="3.45" ry="2.3" fill="#000" opacity="0.80" filter="url(#bl0)"/>
<rect x="225.5" y="311.5" width="50" height="14" fill="none" stroke="#2b2626" stroke-width="1.05"/>
<text x="221" y="321.32" font-size="8.4" text-anchor="end" fill="#1e1e1e">E-cadherin</text>
<text x="279.4" y="321.47" font-size="8.8" fill="#333">135KDa</text>
<rect x="224.8" y="330.5" width="51.7" height="14.6" fill="#f4f4f4"/>
<rect x="228.35" y="334.35" width="12.3" height="4.3" rx="3.22" ry="2.15" fill="#000" opacity="1.00" filter="url(#bl0)"/>
<rect x="244.5" y="333.7" width="11.6" height="2.6" rx="1.95" ry="1.3" fill="#000" opacity="0.20" filter="url(#bl1)"/>
<rect x="259.9" y="331.25" width="13" height="9.9" rx="4.33" ry="4.95" fill="#000" opacity="1.00" filter="url(#bl0)"/>
<rect x="225.5" y="330.5" width="50" height="14" fill="none" stroke="#2b2626" stroke-width="1.05"/>
<text x="221" y="340.82" font-size="8.4" text-anchor="end" fill="#1e1e1e">N-cadherin</text>
<text x="279.4" y="340.97" font-size="8.8" fill="#333">140KDa</text>
<rect x="224.8" y="350" width="51.7" height="14.6" fill="#fafafa"/>
<rect x="229" y="354.7" width="13" height="5" rx="3.75" ry="2.5" fill="#000" opacity="1.00" filter="url(#bl0)"/>
<rect x="243.9" y="355.1" width="11.6" height="2.8" rx="2.1" ry="1.4" fill="#000" opacity="0.50" filter="url(#bl1)"/>
<rect x="260.5" y="353.5" width="11.2" height="3.8" rx="2.85" ry="1.9" fill="#000" opacity="0.80" filter="url(#bl0)"/>
<rect x="225.5" y="350.5" width="50" height="14" fill="none" stroke="#2b2626" stroke-width="1.05"/>
<text x="221" y="360.32" font-size="8.4" text-anchor="end" fill="#1e1e1e">Vimentin</text>
<text x="279.4" y="360.47" font-size="8.8" fill="#333">57KDa</text>
<rect x="224.8" y="369.5" width="51.7" height="14.6" fill="#f8f8f8"/>
<rect x="228.7" y="374.55" width="12.6" height="3.1" rx="2.33" ry="1.55" fill="#000" opacity="0.95" filter="url(#bl1)"/>
<rect x="245.05" y="375.6" width="11.1" height="2.4" rx="1.8" ry="1.2" fill="#000" opacity="0.35" filter="url(#bl1)"/>
<rect x="258.8" y="374.8" width="13.6" height="3.6" rx="2.7" ry="1.8" fill="#000" opacity="0.95" filter="url(#bl0)"/>
<rect x="225.5" y="370.5" width="50" height="13" fill="none" stroke="#2b2626" stroke-width="1.05"/>
<text x="221" y="379.82" font-size="8.4" text-anchor="end" fill="#1e1e1e">snail</text>
<text x="279.4" y="379.97" font-size="8.8" fill="#333">29KDa</text>
<rect x="224.8" y="389" width="51.7" height="14.6" fill="#f6f6f6"/>
<rect x="226.7" y="392.6" width="15.6" height="6" rx="4.5" ry="3" fill="#000" opacity="1.00" filter="url(#bl0)"/>
<rect x="241.9" y="392.6" width="15.6" height="6" rx="4.5" ry="3" fill="#000" opacity="1.00" filter="url(#bl0)"/>
<rect x="257.2" y="392.8" width="15.6" height="5.6" rx="4.2" ry="2.8" fill="#000" opacity="1.00" filter="url(#bl0)"/>
<rect x="225.5" y="389.5" width="50" height="14" fill="none" stroke="#2b2626" stroke-width="1.05"/>
<text x="221" y="399.32" font-size="8.4" text-anchor="end" fill="#1e1e1e">β-actin</text>
<text x="279.4" y="399.47" font-size="8.8" fill="#333">42KDa</text>
<text transform="translate(330.8 32.6) scale(0.92 1)" font-size="15.2" font-weight="bold" fill="#1a1212">C</text>
<text x="370.26" y="84.4" font-size="7.2" font-weight="bold" fill="#111" transform="rotate(-45 370.26 84.4)">V2</text>
<text x="416.96" y="83.8" font-size="7.2" font-weight="bold" fill="#111" transform="rotate(-45 416.96 83.8)">PLOD2-KO</text>
<text x="460.26" y="84.4" font-size="7.2" font-weight="bold" fill="#111" transform="rotate(-45 460.26 84.4)">PLOD2-KO+isoform1</text>
<rect x="340.5" y="87.4" width="51.9" height="45.4" fill="#f7e8ea"/>
<rect x="340.5" y="87.4" width="51.9" height="45.4" filter="url(#mc1)"/>
<rect x="340.5" y="87.5" width="51" height="45" fill="none" stroke="#3a3636" stroke-width="1.05"/>
<rect x="340.5" y="136.9" width="51.9" height="45.4" fill="#f4efdf"/>
<rect x="340.5" y="136.9" width="51.9" height="45.4" filter="url(#mc2)"/>
<rect x="340.5" y="137.5" width="51" height="44" fill="none" stroke="#3a3636" stroke-width="1.05"/>
<rect x="395.6" y="87.4" width="51.9" height="45.4" fill="#f7e8ea"/>
<rect x="395.6" y="87.4" width="51.9" height="45.4" filter="url(#mc3)"/>
<rect x="396.5" y="87.5" width="51" height="45" fill="none" stroke="#3a3636" stroke-width="1.05"/>
<rect x="395.6" y="136.9" width="51.9" height="45.4" fill="#f4efdf"/>
<rect x="395.6" y="136.9" width="51.9" height="45.4" filter="url(#mc4)"/>
<rect x="396.5" y="137.5" width="51" height="44" fill="none" stroke="#3a3636" stroke-width="1.05"/>
<rect x="449.6" y="87.4" width="53.3" height="45.4" fill="#f7e8ea"/>
<rect x="449.6" y="87.4" width="53.3" height="45.4" filter="url(#mc5)"/>
<rect x="450.5" y="87.5" width="52" height="45" fill="none" stroke="#3a3636" stroke-width="1.05"/>
<rect x="449.6" y="136.9" width="53.3" height="45.4" fill="#f4efdf"/>
<rect x="449.6" y="136.9" width="53.3" height="45.4" filter="url(#mc6)"/>
<rect x="450.5" y="137.5" width="52" height="44" fill="none" stroke="#3a3636" stroke-width="1.05"/>
<text x="337" y="111" font-size="10" text-anchor="middle" transform="rotate(-90 337 111)" textLength="40" lengthAdjust="spacingAndGlyphs">Migration</text>
<text x="337" y="160.5" font-size="10" text-anchor="middle" transform="rotate(-90 337 160.5)" textLength="36" lengthAdjust="spacingAndGlyphs">Invasion</text>
<circle cx="576" cy="45.9" r="2" fill="#d42a2e"/>
<text x="588.5" y="49" font-size="8.6">V2</text>
<rect x="574" y="52.5" width="4" height="4" fill="#3b5a96"/>
<text x="588.5" y="57.6" font-size="8.6" textLength="42" lengthAdjust="spacingAndGlyphs">PLOD2-KO</text>
<path d="M576 61.8L578.2 65.9L573.8 65.9Z" fill="#111111"/>
<text x="588.5" y="67.1" font-size="8.6" textLength="77.6" lengthAdjust="spacingAndGlyphs">PLOD2-KO+isoform1</text>
<path d="M553.7 184.1V99.54H568V184.1" fill="#fff" stroke="#dc4f58" stroke-width="1.2"/>
<path d="M571 184.1V144.37H585.3V184.1" fill="#fff" stroke="#6381b5" stroke-width="1.2"/>
<path d="M588 184.1V113.02H602.3V184.1" fill="#fff" stroke="#333333" stroke-width="1.2"/>
<path d="M619.8 184.1V103.18H634.1V184.1" fill="#fff" stroke="#dc4f58" stroke-width="1.2"/>
<path d="M637.1 184.1V144H651.4V184.1" fill="#fff" stroke="#6381b5" stroke-width="1.2"/>
<path d="M654.1 184.1V114.12H668.4V184.1" fill="#fff" stroke="#333333" stroke-width="1.2"/>
<line x1="560.85" y1="87.87" x2="560.85" y2="108.28" stroke="#dc4f58" stroke-width="1"/>
<line x1="556.85" y1="87.87" x2="564.85" y2="87.87" stroke="#dc4f58" stroke-width="1"/>
<line x1="556.85" y1="108.28" x2="564.85" y2="108.28" stroke="#dc4f58" stroke-width="1"/>
<circle cx="560.85" cy="87.87" r="2.1" fill="#d42a2e"/>
<circle cx="560.85" cy="100.63" r="2.1" fill="#d42a2e"/>
<circle cx="560.85" cy="108.28" r="2.1" fill="#d42a2e"/>
<line x1="578.15" y1="140.72" x2="578.15" y2="146.56" stroke="#6381b5" stroke-width="1"/>
<line x1="574.15" y1="140.72" x2="582.15" y2="140.72" stroke="#6381b5" stroke-width="1"/>
<line x1="574.15" y1="146.56" x2="582.15" y2="146.56" stroke="#6381b5" stroke-width="1"/>
<rect x="575.35" y="138.62" width="4.2" height="4.2" fill="#3b5a96"/>
<rect x="570.65" y="142.27" width="4.2" height="4.2" fill="#3b5a96"/>
<rect x="579.55" y="144.46" width="4.2" height="4.2" fill="#3b5a96"/>
<line x1="595.15" y1="111.2" x2="595.15" y2="115.94" stroke="#333333" stroke-width="1"/>
<line x1="591.15" y1="111.2" x2="599.15" y2="111.2" stroke="#333333" stroke-width="1"/>
<line x1="591.15" y1="115.94" x2="599.15" y2="115.94" stroke="#333333" stroke-width="1"/>
<path d="M591.55 108.9L593.85 113.19L589.25 113.19Z" fill="#111111"/>
<path d="M594.85 108.9L597.15 113.19L592.55 113.19Z" fill="#111111"/>
<path d="M598.45 113.64L600.75 117.93L596.15 117.93Z" fill="#111111"/>
<line x1="626.95" y1="94.8" x2="626.95" y2="109.01" stroke="#dc4f58" stroke-width="1"/>
<line x1="622.95" y1="94.8" x2="630.95" y2="94.8" stroke="#dc4f58" stroke-width="1"/>
<line x1="622.95" y1="109.01" x2="630.95" y2="109.01" stroke="#dc4f58" stroke-width="1"/>
<circle cx="623.05" cy="105" r="2.1" fill="#d42a2e"/>
<circle cx="626.95" cy="94.8" r="2.1" fill="#d42a2e"/>
<circle cx="630.85" cy="109.01" r="2.1" fill="#d42a2e"/>
<line x1="644.25" y1="136.71" x2="644.25" y2="149.11" stroke="#6381b5" stroke-width="1"/>
<line x1="640.25" y1="136.71" x2="648.25" y2="136.71" stroke="#6381b5" stroke-width="1"/>
<line x1="640.25" y1="149.11" x2="648.25" y2="149.11" stroke="#6381b5" stroke-width="1"/>
<rect x="637.75" y="143" width="4.2" height="4.2" fill="#3b5a96"/>
<rect x="642.15" y="134.61" width="4.2" height="4.2" fill="#3b5a96"/>
<rect x="645.75" y="147.01" width="4.2" height="4.2" fill="#3b5a96"/>
<line x1="661.25" y1="106.83" x2="661.25" y2="120.68" stroke="#333333" stroke-width="1"/>
<line x1="657.25" y1="106.83" x2="665.25" y2="106.83" stroke="#333333" stroke-width="1"/>
<line x1="657.25" y1="120.68" x2="665.25" y2="120.68" stroke="#333333" stroke-width="1"/>
<path d="M656.85 113.28L659.15 117.57L654.55 117.57Z" fill="#111111"/>
<path d="M661.25 104.53L663.55 108.82L658.95 108.82Z" fill="#111111"/>
<path d="M664.65 118.38L666.95 122.67L662.35 122.67Z" fill="#111111"/>
<line x1="541.5" y1="74.25" x2="541.5" y2="185" stroke="#333" stroke-width="1"/>
<line x1="541" y1="184.5" x2="681.7" y2="184.5" stroke="#333" stroke-width="1"/>
<line x1="537.7" y1="184.5" x2="541.5" y2="184.5" stroke="#333" stroke-width="1"/>
<text x="537.1" y="187.16" font-size="8.5" text-anchor="end" font-weight="bold" fill="#111" textLength="4.4" lengthAdjust="spacingAndGlyphs">0</text>
<line x1="537.7" y1="147.5" x2="541.5" y2="147.5" stroke="#333" stroke-width="1"/>
<text x="537.1" y="150.71" font-size="8.5" text-anchor="end" font-weight="bold" fill="#111" textLength="13.19" lengthAdjust="spacingAndGlyphs">100</text>
<line x1="537.7" y1="111.5" x2="541.5" y2="111.5" stroke="#333" stroke-width="1"/>
<text x="537.1" y="114.26" font-size="8.5" text-anchor="end" font-weight="bold" fill="#111" textLength="13.19" lengthAdjust="spacingAndGlyphs">200</text>
<line x1="537.7" y1="74.5" x2="541.5" y2="74.5" stroke="#333" stroke-width="1"/>
<text x="537.1" y="77.81" font-size="8.5" text-anchor="end" font-weight="bold" fill="#111" textLength="13.19" lengthAdjust="spacingAndGlyphs">300</text>
<line x1="577.7" y1="184.5" x2="577.7" y2="188" stroke="#333" stroke-width="1"/>
<line x1="643.8" y1="184.5" x2="643.8" y2="188" stroke="#333" stroke-width="1"/>
<line x1="554.5" y1="82.9" x2="574.3" y2="82.9" stroke="#333" stroke-width="0.9"/>
<text x="564.4" y="82.7" font-size="7.8" text-anchor="middle" fill="#111">**</text>
<line x1="577.9" y1="105.4" x2="597.7" y2="105.4" stroke="#333" stroke-width="0.9"/>
<text x="587.8" y="105.2" font-size="7.8" text-anchor="middle" fill="#111">***</text>
<line x1="624.6" y1="90.1" x2="644.7" y2="90.1" stroke="#333" stroke-width="0.9"/>
<text x="634.65" y="89.9" font-size="7.8" text-anchor="middle" fill="#111">**</text>
<line x1="648.6" y1="102.6" x2="668.6" y2="102.6" stroke="#333" stroke-width="0.9"/>
<text x="658.6" y="102.4" font-size="7.8" text-anchor="middle" fill="#111">**</text>
<text x="578.2" y="199" font-size="8.3" text-anchor="middle" font-weight="bold" fill="#111">Migration</text>
<text x="645.5" y="199" font-size="8.3" text-anchor="middle" font-weight="bold" fill="#111">Invasion</text>
<text x="519" y="130.2" font-size="9" text-anchor="middle" font-weight="bold" fill="#111" transform="rotate(-90 519 130.2)" textLength="82" lengthAdjust="spacingAndGlyphs">Cell Counted / field</text>
<text transform="translate(338 246.5) scale(0.95 1)" font-size="14.8" font-weight="bold" fill="#1a1212">D</text>
<text x="369.06" y="304.4" font-size="7.2" font-weight="bold" fill="#111" transform="rotate(-45 369.06 304.4)">V2</text>
<text x="413.86" y="303.8" font-size="7.2" font-weight="bold" fill="#111" transform="rotate(-45 413.86 303.8)">PLOD2-KO</text>
<text x="457.16" y="304.4" font-size="7.2" font-weight="bold" fill="#111" transform="rotate(-45 457.16 304.4)">PLOD2-KO+isoform2</text>
<rect x="340.9" y="308.7" width="51.5" height="44.6" fill="#f6f4f8"/>
<rect x="340.9" y="308.7" width="51.5" height="44.6" filter="url(#mc7)"/>
<rect x="341.5" y="309.5" width="50" height="43" fill="none" stroke="#3a3636" stroke-width="1.05"/>
<rect x="340.9" y="361.6" width="51.5" height="44.4" fill="#fcfcfe"/>
<rect x="340.9" y="361.6" width="51.5" height="44.4" filter="url(#mc8)"/>
<rect x="341.5" y="362.5" width="50" height="43" fill="none" stroke="#3a3636" stroke-width="1.05"/>
<rect x="395.7" y="308.7" width="51.4" height="44.6" fill="#f6f4f8"/>
<rect x="395.7" y="308.7" width="51.4" height="44.6" filter="url(#mc9)"/>
<rect x="396.5" y="309.5" width="50" height="43" fill="none" stroke="#3a3636" stroke-width="1.05"/>
<rect x="395.7" y="361.6" width="51.4" height="44.4" fill="#fcfcfe"/>
<rect x="395.7" y="361.6" width="51.4" height="44.4" filter="url(#mc10)"/>
<rect x="396.5" y="362.5" width="50" height="43" fill="none" stroke="#3a3636" stroke-width="1.05"/>
<rect x="450" y="308.7" width="51.9" height="44.6" fill="#f6f4f8"/>
<rect x="450" y="308.7" width="51.9" height="44.6" filter="url(#mc11)"/>
<rect x="450.5" y="309.5" width="51" height="43" fill="none" stroke="#3a3636" stroke-width="1.05"/>
<rect x="450" y="361.6" width="51.9" height="44.4" fill="#fcfcfe"/>
<rect x="450" y="361.6" width="51.9" height="44.4" filter="url(#mc12)"/>
<rect x="450.5" y="362.5" width="51" height="43" fill="none" stroke="#3a3636" stroke-width="1.05"/>
<text x="338.5" y="333" font-size="10" text-anchor="middle" transform="rotate(-90 338.5 333)" textLength="40" lengthAdjust="spacingAndGlyphs">Migration</text>
<text x="338.5" y="380" font-size="10" text-anchor="middle" transform="rotate(-90 338.5 380)" textLength="37" lengthAdjust="spacingAndGlyphs">Invasion</text>
<circle cx="578" cy="268.1" r="2" fill="#d42a2e"/>
<text x="590" y="271.2" font-size="8.6">V2</text>
<rect x="576" y="275" width="4" height="4" fill="#3b5a96"/>
<text x="590" y="280.1" font-size="8.6" textLength="40.5" lengthAdjust="spacingAndGlyphs">PLOD2-KO</text>
<path d="M578 283.4L580.2 287.5L575.8 287.5Z" fill="#e8a93a"/>
<text x="590" y="288.7" font-size="8.6" textLength="76.6" lengthAdjust="spacingAndGlyphs">PLOD2-KO+isoform2</text>
<path d="M556.9 400.3V322.32H570.9V400.3" fill="#fff" stroke="#dc4f58" stroke-width="1.2"/>
<path d="M573.9 400.3V364.56H587.9V400.3" fill="#fff" stroke="#6381b5" stroke-width="1.2"/>
<path d="M590.8 400.3V329.4H604.8V400.3" fill="#fff" stroke="#edbb5c" stroke-width="1.2"/>
<path d="M623.4 400.3V330.99H637.4V400.3" fill="#fff" stroke="#dc4f58" stroke-width="1.2"/>
<path d="M640.4 400.3V368.32H654.4V400.3" fill="#fff" stroke="#6381b5" stroke-width="1.2"/>
<path d="M657.3 400.3V334.6H671.3V400.3" fill="#fff" stroke="#edbb5c" stroke-width="1.2"/>
<line x1="563.9" y1="317.09" x2="563.9" y2="324.31" stroke="#dc4f58" stroke-width="1"/>
<line x1="559.95" y1="317.09" x2="567.85" y2="317.09" stroke="#dc4f58" stroke-width="1"/>
<line x1="559.95" y1="324.31" x2="567.85" y2="324.31" stroke="#dc4f58" stroke-width="1"/>
<circle cx="563.9" cy="317.09" r="2.1" fill="#d42a2e"/>
<circle cx="560.4" cy="324.31" r="2.1" fill="#d42a2e"/>
<circle cx="567.5" cy="324.31" r="2.1" fill="#d42a2e"/>
<line x1="580.9" y1="361.1" x2="580.9" y2="366" stroke="#6381b5" stroke-width="1"/>
<line x1="576.95" y1="361.1" x2="584.85" y2="361.1" stroke="#6381b5" stroke-width="1"/>
<line x1="576.95" y1="366" x2="584.85" y2="366" stroke="#6381b5" stroke-width="1"/>
<rect x="573.3" y="359" width="4.2" height="4.2" fill="#3b5a96"/>
<rect x="578.6" y="363.4" width="4.2" height="4.2" fill="#3b5a96"/>
<rect x="583.8" y="363.9" width="4.2" height="4.2" fill="#3b5a96"/>
<line x1="597.8" y1="327.09" x2="597.8" y2="333.51" stroke="#edbb5c" stroke-width="1"/>
<line x1="593.85" y1="327.09" x2="601.75" y2="327.09" stroke="#edbb5c" stroke-width="1"/>
<line x1="593.85" y1="333.51" x2="601.75" y2="333.51" stroke="#edbb5c" stroke-width="1"/>
<path d="M594 326.53L596.3 330.82L591.7 330.82Z" fill="#e8a93a"/>
<path d="M598.4 324.79L600.7 329.08L596.1 329.08Z" fill="#e8a93a"/>
<path d="M601.2 331.22L603.5 335.51L598.9 335.51Z" fill="#e8a93a"/>
<line x1="630.4" y1="324.31" x2="630.4" y2="335.68" stroke="#dc4f58" stroke-width="1"/>
<line x1="626.45" y1="324.31" x2="634.35" y2="324.31" stroke="#dc4f58" stroke-width="1"/>
<line x1="626.45" y1="335.68" x2="634.35" y2="335.68" stroke="#dc4f58" stroke-width="1"/>
<circle cx="630.4" cy="324.31" r="2.1" fill="#d42a2e"/>
<circle cx="626.4" cy="332.43" r="2.1" fill="#d42a2e"/>
<circle cx="634.2" cy="335.68" r="2.1" fill="#d42a2e"/>
<line x1="647.4" y1="364.2" x2="647.4" y2="372.68" stroke="#6381b5" stroke-width="1"/>
<line x1="643.45" y1="364.2" x2="651.35" y2="364.2" stroke="#6381b5" stroke-width="1"/>
<line x1="643.45" y1="372.68" x2="651.35" y2="372.68" stroke="#6381b5" stroke-width="1"/>
<rect x="645.3" y="362.1" width="4.2" height="4.2" fill="#3b5a96"/>
<rect x="641.1" y="366.61" width="4.2" height="4.2" fill="#3b5a96"/>
<rect x="648.9" y="370.58" width="4.2" height="4.2" fill="#3b5a96"/>
<line x1="664.3" y1="327.09" x2="664.3" y2="341.2" stroke="#edbb5c" stroke-width="1"/>
<line x1="660.35" y1="327.09" x2="668.25" y2="327.09" stroke="#edbb5c" stroke-width="1"/>
<line x1="660.35" y1="341.2" x2="668.25" y2="341.2" stroke="#edbb5c" stroke-width="1"/>
<path d="M664.3 324.79L666.6 329.08L662 329.08Z" fill="#e8a93a"/>
<path d="M660.5 333.39L662.8 337.68L658.2 337.68Z" fill="#e8a93a"/>
<path d="M668.6 338.91L670.9 343.2L666.3 343.2Z" fill="#e8a93a"/>
<line x1="544.5" y1="291.5" x2="544.5" y2="401" stroke="#333" stroke-width="1"/>
<line x1="544" y1="400.5" x2="684.5" y2="400.5" stroke="#333" stroke-width="1"/>
<line x1="540.7" y1="400.5" x2="544.5" y2="400.5" stroke="#333" stroke-width="1"/>
<text x="539.9" y="403.36" font-size="8.5" text-anchor="end" font-weight="bold" fill="#111" textLength="4.4" lengthAdjust="spacingAndGlyphs">0</text>
<line x1="540.7" y1="364.5" x2="544.5" y2="364.5" stroke="#333" stroke-width="1"/>
<text x="539.9" y="367.26" font-size="8.5" text-anchor="end" font-weight="bold" fill="#111" textLength="13.19" lengthAdjust="spacingAndGlyphs">100</text>
<line x1="540.7" y1="328.5" x2="544.5" y2="328.5" stroke="#333" stroke-width="1"/>
<text x="539.9" y="331.16" font-size="8.5" text-anchor="end" font-weight="bold" fill="#111" textLength="13.19" lengthAdjust="spacingAndGlyphs">200</text>
<line x1="540.7" y1="292.5" x2="544.5" y2="292.5" stroke="#333" stroke-width="1"/>
<text x="539.9" y="295.06" font-size="8.5" text-anchor="end" font-weight="bold" fill="#111" textLength="13.19" lengthAdjust="spacingAndGlyphs">300</text>
<line x1="581.1" y1="400.5" x2="581.1" y2="404" stroke="#333" stroke-width="1"/>
<line x1="647.6" y1="400.5" x2="647.6" y2="404" stroke="#333" stroke-width="1"/>
<line x1="558" y1="311.4" x2="577.9" y2="311.4" stroke="#333" stroke-width="0.9"/>
<text x="567.95" y="311.2" font-size="7.8" text-anchor="middle" fill="#111">***</text>
<line x1="581.3" y1="321.8" x2="601.2" y2="321.8" stroke="#333" stroke-width="0.9"/>
<text x="591.25" y="321.6" font-size="7.8" text-anchor="middle" fill="#111">***</text>
<line x1="626.5" y1="317.7" x2="646.4" y2="317.7" stroke="#333" stroke-width="0.9"/>
<text x="636.45" y="317.5" font-size="7.8" text-anchor="middle" fill="#111">***</text>
<line x1="651.2" y1="323.3" x2="670.9" y2="323.3" stroke="#333" stroke-width="0.9"/>
<text x="661.05" y="323.1" font-size="7.8" text-anchor="middle" fill="#111">**</text>
<text x="580" y="413" font-size="8.3" text-anchor="middle" font-weight="bold" fill="#111">Migration</text>
<text x="646.9" y="413" font-size="8.3" text-anchor="middle" font-weight="bold" fill="#111">Invasion</text>
<text x="521.8" y="346.5" font-size="9" text-anchor="middle" font-weight="bold" fill="#111" transform="rotate(-90 521.8 346.5)" textLength="81.7" lengthAdjust="spacingAndGlyphs">Cell Counted / field</text>
<text transform="translate(20.9 464.8) scale(0.88 1)" font-size="14.8" font-weight="bold" fill="#1a1212">E</text>
<circle cx="63.5" cy="466.4" r="2.1" fill="#d42a2e"/>
<text x="77.7" y="469.71" font-size="9.2">V2</text>
<rect x="61.4" y="472.4" width="4.2" height="4.2" fill="#3b5a96"/>
<text x="77.7" y="477.81" font-size="9.2">PLOD2-KO</text>
<path d="M63.5 480.5L65.8 484.8L61.2 484.8Z" fill="#111111"/>
<text x="77.7" y="486.11" font-size="9.2" textLength="90" lengthAdjust="spacingAndGlyphs">PLOD2-KO+isoform1</text>
<path d="M44.9 613V528.8H55.1V613" fill="#fff" stroke="#dc4f58" stroke-width="1.2"/>
<path d="M57.9 613V586.9H68.1V613" fill="#fff" stroke="#6381b5" stroke-width="1.2"/>
<path d="M70.9 613V531.33H81.1V613" fill="#fff" stroke="#333333" stroke-width="1.2"/>
<path d="M94.9 613V528.8H105.1V613" fill="#fff" stroke="#dc4f58" stroke-width="1.2"/>
<path d="M107.9 613V591.11H118.1V613" fill="#fff" stroke="#6381b5" stroke-width="1.2"/>
<path d="M120.9 613V572.58H131.1V613" fill="#fff" stroke="#333333" stroke-width="1.2"/>
<path d="M144.4 613V528.8H154.6V613" fill="#fff" stroke="#dc4f58" stroke-width="1.2"/>
<path d="M157.4 613V583.95H167.6V613" fill="#fff" stroke="#6381b5" stroke-width="1.2"/>
<path d="M170.4 613V532.17H180.6V613" fill="#fff" stroke="#333333" stroke-width="1.2"/>
<line x1="50" y1="524.59" x2="50" y2="534.69" stroke="#dc4f58" stroke-width="1"/>
<line x1="47.04" y1="524.59" x2="52.96" y2="524.59" stroke="#dc4f58" stroke-width="1"/>
<line x1="47.04" y1="534.69" x2="52.96" y2="534.69" stroke="#dc4f58" stroke-width="1"/>
<circle cx="48.29" cy="524.59" r="2.2" fill="#d42a2e"/>
<circle cx="51.71" cy="527.12" r="2.2" fill="#d42a2e"/>
<circle cx="50" cy="534.69" r="2.2" fill="#d42a2e"/>
<line x1="63" y1="585.21" x2="63" y2="587.74" stroke="#6381b5" stroke-width="1"/>
<line x1="60.04" y1="585.21" x2="65.96" y2="585.21" stroke="#6381b5" stroke-width="1"/>
<line x1="60.04" y1="587.74" x2="65.96" y2="587.74" stroke="#6381b5" stroke-width="1"/>
<rect x="57.38" y="583.01" width="4.4" height="4.4" fill="#3b5a96"/>
<rect x="60.8" y="584.7" width="4.4" height="4.4" fill="#3b5a96"/>
<rect x="64.22" y="585.54" width="4.4" height="4.4" fill="#3b5a96"/>
<line x1="76" y1="530.48" x2="76" y2="532.17" stroke="#333333" stroke-width="1"/>
<line x1="73.04" y1="530.48" x2="78.96" y2="530.48" stroke="#333333" stroke-width="1"/>
<line x1="73.04" y1="532.17" x2="78.96" y2="532.17" stroke="#333333" stroke-width="1"/>
<path d="M72.58 528.09L74.98 532.57L70.18 532.57Z" fill="#111111"/>
<path d="M76 528.94L78.4 533.42L73.6 533.42Z" fill="#111111"/>
<path d="M79.42 529.78L81.82 534.26L77.02 534.26Z" fill="#111111"/>
<line x1="100" y1="522.06" x2="100" y2="537.22" stroke="#dc4f58" stroke-width="1"/>
<line x1="97.04" y1="522.06" x2="102.96" y2="522.06" stroke="#dc4f58" stroke-width="1"/>
<line x1="97.04" y1="537.22" x2="102.96" y2="537.22" stroke="#dc4f58" stroke-width="1"/>
<circle cx="100" cy="522.06" r="2.2" fill="#d42a2e"/>
<circle cx="100" cy="526.27" r="2.2" fill="#d42a2e"/>
<circle cx="100" cy="537.22" r="2.2" fill="#d42a2e"/>
<line x1="113" y1="585.21" x2="113" y2="593.63" stroke="#6381b5" stroke-width="1"/>
<line x1="110.04" y1="585.21" x2="115.96" y2="585.21" stroke="#6381b5" stroke-width="1"/>
<line x1="110.04" y1="593.63" x2="115.96" y2="593.63" stroke="#6381b5" stroke-width="1"/>
<rect x="110.8" y="583.01" width="4.4" height="4.4" fill="#3b5a96"/>
<rect x="109.09" y="589.75" width="4.4" height="4.4" fill="#3b5a96"/>
<rect x="112.51" y="591.43" width="4.4" height="4.4" fill="#3b5a96"/>
<line x1="126" y1="570.06" x2="126" y2="574.27" stroke="#333333" stroke-width="1"/>
<line x1="123.04" y1="570.06" x2="128.96" y2="570.06" stroke="#333333" stroke-width="1"/>
<line x1="123.04" y1="574.27" x2="128.96" y2="574.27" stroke="#333333" stroke-width="1"/>
<path d="M122.58 567.67L124.98 572.15L120.18 572.15Z" fill="#111111"/>
<path d="M126 570.19L128.4 574.67L123.6 574.67Z" fill="#111111"/>
<path d="M129.42 571.88L131.82 576.36L127.02 576.36Z" fill="#111111"/>
<line x1="149.5" y1="522.06" x2="149.5" y2="532.17" stroke="#dc4f58" stroke-width="1"/>
<line x1="146.54" y1="522.06" x2="152.46" y2="522.06" stroke="#dc4f58" stroke-width="1"/>
<line x1="146.54" y1="532.17" x2="152.46" y2="532.17" stroke="#dc4f58" stroke-width="1"/>
<circle cx="149.5" cy="522.06" r="2.2" fill="#d42a2e"/>
<circle cx="147.79" cy="531.33" r="2.2" fill="#d42a2e"/>
<circle cx="151.21" cy="532.17" r="2.2" fill="#d42a2e"/>
<line x1="162.5" y1="583.53" x2="162.5" y2="585.21" stroke="#6381b5" stroke-width="1"/>
<line x1="159.54" y1="583.53" x2="165.46" y2="583.53" stroke="#6381b5" stroke-width="1"/>
<line x1="159.54" y1="585.21" x2="165.46" y2="585.21" stroke="#6381b5" stroke-width="1"/>
<rect x="156.88" y="581.33" width="4.4" height="4.4" fill="#3b5a96"/>
<rect x="160.3" y="581.75" width="4.4" height="4.4" fill="#3b5a96"/>
<rect x="163.72" y="583.01" width="4.4" height="4.4" fill="#3b5a96"/>
<line x1="175.5" y1="521.22" x2="175.5" y2="543.11" stroke="#333333" stroke-width="1"/>
<line x1="172.54" y1="521.22" x2="178.46" y2="521.22" stroke="#333333" stroke-width="1"/>
<line x1="172.54" y1="543.11" x2="178.46" y2="543.11" stroke="#333333" stroke-width="1"/>
<path d="M175.5 518.83L177.9 523.31L173.1 523.31Z" fill="#111111"/>
<path d="M175.5 528.94L177.9 533.42L173.1 533.42Z" fill="#111111"/>
<path d="M175.5 540.72L177.9 545.2L173.1 545.2Z" fill="#111111"/>
<line x1="35.5" y1="486.2" x2="35.5" y2="613" stroke="#333" stroke-width="1"/>
<line x1="35" y1="612.5" x2="180.5" y2="612.5" stroke="#333" stroke-width="1"/>
<line x1="31.7" y1="612.5" x2="35.5" y2="612.5" stroke="#333" stroke-width="1"/>
<text x="30.5" y="616.17" font-size="8.8" text-anchor="end" font-weight="bold" fill="#111">0.0</text>
<line x1="31.7" y1="570.5" x2="35.5" y2="570.5" stroke="#333" stroke-width="1"/>
<text x="30.5" y="574.07" font-size="8.8" text-anchor="end" font-weight="bold" fill="#111">0.5</text>
<line x1="31.7" y1="528.5" x2="35.5" y2="528.5" stroke="#333" stroke-width="1"/>
<text x="30.5" y="531.97" font-size="8.8" text-anchor="end" font-weight="bold" fill="#111">1.0</text>
<line x1="31.7" y1="486.5" x2="35.5" y2="486.5" stroke="#333" stroke-width="1"/>
<text x="30.5" y="489.87" font-size="8.8" text-anchor="end" font-weight="bold" fill="#111">1.5</text>
<line x1="62.3" y1="612.5" x2="62.3" y2="616" stroke="#333" stroke-width="1"/>
<line x1="112.3" y1="612.5" x2="112.3" y2="616" stroke="#333" stroke-width="1"/>
<line x1="161.8" y1="612.5" x2="161.8" y2="616" stroke="#333" stroke-width="1"/>
<line x1="43.2" y1="519.3" x2="59.5" y2="519.3" stroke="#333" stroke-width="0.9"/>
<text x="51.35" y="519.7" font-size="7.8" text-anchor="middle" fill="#111">****</text>
<line x1="63.6" y1="523.2" x2="80" y2="523.2" stroke="#333" stroke-width="0.9"/>
<text x="71.8" y="523.6" font-size="7.8" text-anchor="middle" fill="#111">****</text>
<line x1="94.3" y1="516.4" x2="110.7" y2="516.4" stroke="#333" stroke-width="0.9"/>
<text x="102.5" y="516.8" font-size="7.8" text-anchor="middle" fill="#111">***</text>
<line x1="113.6" y1="565.9" x2="130" y2="565.9" stroke="#333" stroke-width="0.9"/>
<text x="121.8" y="566.3" font-size="7.8" text-anchor="middle" fill="#111">**</text>
<line x1="147" y1="515.5" x2="163" y2="515.5" stroke="#333" stroke-width="0.9"/>
<text x="155" y="515.9" font-size="7.8" text-anchor="middle" fill="#111">***</text>
<line x1="165.7" y1="518.2" x2="180.5" y2="518.2" stroke="#333" stroke-width="0.9"/>
<text x="173.1" y="518.6" font-size="7.8" text-anchor="middle" fill="#111">**</text>
<text x="65.3" y="624.7" font-size="9.3" text-anchor="end" font-weight="bold" fill="#111" transform="rotate(-45 65.3 624.7)">CD44</text>
<text x="115.3" y="624.7" font-size="9.3" text-anchor="end" font-weight="bold" fill="#111" transform="rotate(-45 115.3 624.7)">Nanog</text>
<text x="164.8" y="624.7" font-size="9.3" text-anchor="end" font-weight="bold" fill="#111" transform="rotate(-45 164.8 624.7)">Bmi-1</text>
<text x="11" y="549.5" font-size="10.4" text-anchor="middle" font-weight="bold" fill="#111" transform="rotate(-90 11 549.5)" textLength="135.4" lengthAdjust="spacingAndGlyphs">Relative mRNA expression</text>
<text x="232.06" y="517.3" font-size="7.2" font-weight="bold" fill="#111" transform="rotate(-45 232.06 517.3)">V2</text>
<text x="250.66" y="517.3" font-size="7.2" font-weight="bold" fill="#111" transform="rotate(-45 250.66 517.3)">PLOD2-KO</text>
<text x="268.06" y="517.3" font-size="7.2" font-weight="bold" fill="#111" transform="rotate(-45 268.06 517.3)">PLOD2-KO+isoform1</text>
<rect x="225.1" y="522.9" width="52.1" height="14.5" fill="#eeeeee"/>
<rect x="227.5" y="527" width="13.6" height="6" rx="4.5" ry="3" fill="#000" opacity="0.62" filter="url(#bl0)"/>
<rect x="243.7" y="527.2" width="10.6" height="4.6" rx="3.45" ry="2.3" fill="#000" opacity="0.18" filter="url(#bl0)"/>
<rect x="257.55" y="527.45" width="12.9" height="5.1" rx="3.82" ry="2.55" fill="#000" opacity="0.68" filter="url(#bl0)"/>
<rect x="225.5" y="523.5" width="51" height="13" fill="none" stroke="#2b2626" stroke-width="1.05"/>
<text x="222.8" y="533.32" font-size="8.8" text-anchor="end" fill="#444">CD44</text>
<text x="278.5" y="533.35" font-size="8.9" fill="#333">80KDa</text>
<rect x="225.1" y="542.1" width="52.1" height="14.5" fill="#eaeaea"/>
<rect x="229" y="547.8" width="11.4" height="3.6" rx="2.7" ry="1.8" fill="#000" opacity="0.85" filter="url(#bl0)"/>
<rect x="246.7" y="547.7" width="8.6" height="2.6" rx="1.95" ry="1.3" fill="#000" opacity="0.10" filter="url(#bl1)"/>
<rect x="260.15" y="548.3" width="11.1" height="3.4" rx="2.55" ry="1.7" fill="#000" opacity="0.45" filter="url(#bl0)"/>
<rect x="225.5" y="542.5" width="51" height="14" fill="none" stroke="#2b2626" stroke-width="1.05"/>
<text x="222.8" y="552.52" font-size="8.8" text-anchor="end" fill="#444">Nanog</text>
<text x="278.5" y="552.55" font-size="8.9" fill="#333">42KDa</text>
<rect x="225.1" y="561.3" width="52.1" height="14.5" fill="#fafafa"/>
<rect x="228.2" y="565.7" width="13" height="5.2" rx="3.9" ry="2.6" fill="#000" opacity="1.00" filter="url(#bl0)"/>
<rect x="260.7" y="565.9" width="11.4" height="4.2" rx="3.15" ry="2.1" fill="#000" opacity="1.00" filter="url(#bl0)"/>
<rect x="225.5" y="561.5" width="51" height="14" fill="none" stroke="#2b2626" stroke-width="1.05"/>
<text x="222.8" y="571.72" font-size="8.8" text-anchor="end" fill="#444">Oct4</text>
<text x="278.5" y="571.75" font-size="8.9" fill="#333">45KDa</text>
<rect x="225.1" y="580.5" width="52.1" height="14.5" fill="#f6f6f6"/>
<rect x="228.9" y="585" width="12.2" height="3.6" rx="2.7" ry="1.8" fill="#000" opacity="0.95" filter="url(#bl0)"/>
<rect x="244.2" y="586.25" width="10.6" height="2.1" rx="1.58" ry="1.05" fill="#000" opacity="0.25" filter="url(#bl1)"/>
<rect x="258.35" y="583.4" width="12.9" height="6" rx="4.3" ry="3" fill="#000" opacity="1.00" filter="url(#bl0)"/>
<rect x="225.5" y="580.5" width="51" height="14" fill="none" stroke="#2b2626" stroke-width="1.05"/>
<text x="222.8" y="590.92" font-size="8.8" text-anchor="end" fill="#444">Bmi-1</text>
<text x="278.5" y="590.95" font-size="8.9" fill="#333">43KDa</text>
<rect x="225.1" y="599.7" width="52.1" height="14.5" fill="#f2f2f2"/>
<rect x="228.5" y="604.3" width="13.6" height="4.4" rx="3.3" ry="2.2" fill="#000" opacity="0.95" filter="url(#bl0)"/>
<rect x="243.5" y="604.3" width="13.6" height="4.4" rx="3.3" ry="2.2" fill="#000" opacity="0.95" filter="url(#bl0)"/>
<rect x="257.9" y="604.3" width="14.6" height="4.4" rx="3.3" ry="2.2" fill="#000" opacity="0.95" filter="url(#bl0)"/>
<rect x="225.5" y="600.5" width="51" height="13" fill="none" stroke="#2b2626" stroke-width="1.05"/>
<text x="222.8" y="610.12" font-size="8.8" text-anchor="end" fill="#444">β-actin</text>
<text x="278.5" y="610.15" font-size="8.9" fill="#333">42KDa</text>
<text transform="translate(342.6 465) scale(0.92 1)" font-size="14.8" font-weight="bold" fill="#1a1212">F</text>
<circle cx="410.6" cy="463" r="2.4" fill="#d42a2e"/>
<text x="429.2" y="466.17" font-size="8.8">V2</text>
<rect x="408.2" y="470.6" width="4.8" height="4.8" fill="#3b5a96"/>
<text x="429.2" y="476.17" font-size="8.8" textLength="42.9" lengthAdjust="spacingAndGlyphs">PLOD2-KO</text>
<path d="M410.6 480.62L413.2 485.48L408 485.48Z" fill="#e8a93a"/>
<text x="429.2" y="486.37" font-size="8.8" textLength="76.6" lengthAdjust="spacingAndGlyphs">PLOD2-KO+isoform2</text>
<path d="M384.4 615.1V554.55H395V615.1" fill="#fff" stroke="#dc4f58" stroke-width="1.2"/>
<path d="M397.8 615.1V579.68H408.4V615.1" fill="#fff" stroke="#6381b5" stroke-width="1.2"/>
<path d="M410.6 615.1V521.25H421.2V615.1" fill="#fff" stroke="#edbb5c" stroke-width="1.2"/>
<path d="M435.6 615.1V554.55H446.2V615.1" fill="#fff" stroke="#dc4f58" stroke-width="1.2"/>
<path d="M449 615.1V584.83H459.6V615.1" fill="#fff" stroke="#6381b5" stroke-width="1.2"/>
<path d="M461.8 615.1V562.42H472.4V615.1" fill="#fff" stroke="#edbb5c" stroke-width="1.2"/>
<path d="M486.8 615.1V554.55H497.4V615.1" fill="#fff" stroke="#dc4f58" stroke-width="1.2"/>
<path d="M500.2 615.1V607.83H510.8V615.1" fill="#fff" stroke="#6381b5" stroke-width="1.2"/>
<path d="M513 615.1V584.83H523.6V615.1" fill="#fff" stroke="#edbb5c" stroke-width="1.2"/>
<line x1="389.7" y1="551.52" x2="389.7" y2="556.37" stroke="#dc4f58" stroke-width="1"/>
<line x1="386.63" y1="551.52" x2="392.77" y2="551.52" stroke="#dc4f58" stroke-width="1"/>
<line x1="386.63" y1="556.37" x2="392.77" y2="556.37" stroke="#dc4f58" stroke-width="1"/>
<circle cx="386.16" cy="551.52" r="2.1" fill="#d42a2e"/>
<circle cx="389.7" cy="554.55" r="2.1" fill="#d42a2e"/>
<circle cx="393.24" cy="556.37" r="2.1" fill="#d42a2e"/>
<line x1="403.1" y1="578.16" x2="403.1" y2="580.59" stroke="#6381b5" stroke-width="1"/>
<line x1="400.03" y1="578.16" x2="406.17" y2="578.16" stroke="#6381b5" stroke-width="1"/>
<line x1="400.03" y1="580.59" x2="406.17" y2="580.59" stroke="#6381b5" stroke-width="1"/>
<rect x="397.46" y="576.06" width="4.2" height="4.2" fill="#3b5a96"/>
<rect x="401" y="577.28" width="4.2" height="4.2" fill="#3b5a96"/>
<rect x="404.54" y="578.49" width="4.2" height="4.2" fill="#3b5a96"/>
<line x1="415.9" y1="516.4" x2="415.9" y2="525.49" stroke="#edbb5c" stroke-width="1"/>
<line x1="412.83" y1="516.4" x2="418.97" y2="516.4" stroke="#edbb5c" stroke-width="1"/>
<line x1="412.83" y1="525.49" x2="418.97" y2="525.49" stroke="#edbb5c" stroke-width="1"/>
<path d="M415.9 514.11L418.2 518.4L413.6 518.4Z" fill="#e8a93a"/>
<path d="M414.13 520.77L416.43 525.06L411.83 525.06Z" fill="#e8a93a"/>
<path d="M417.67 523.19L419.97 527.48L415.37 527.48Z" fill="#e8a93a"/>
<line x1="440.9" y1="551.52" x2="440.9" y2="555.16" stroke="#dc4f58" stroke-width="1"/>
<line x1="437.83" y1="551.52" x2="443.97" y2="551.52" stroke="#dc4f58" stroke-width="1"/>
<line x1="437.83" y1="555.16" x2="443.97" y2="555.16" stroke="#dc4f58" stroke-width="1"/>
<circle cx="437.36" cy="551.52" r="2.1" fill="#d42a2e"/>
<circle cx="440.9" cy="554.55" r="2.1" fill="#d42a2e"/>
<circle cx="444.44" cy="555.16" r="2.1" fill="#d42a2e"/>
<line x1="454.3" y1="583.01" x2="454.3" y2="586.64" stroke="#6381b5" stroke-width="1"/>
<line x1="451.23" y1="583.01" x2="457.37" y2="583.01" stroke="#6381b5" stroke-width="1"/>
<line x1="451.23" y1="586.64" x2="457.37" y2="586.64" stroke="#6381b5" stroke-width="1"/>
<rect x="448.66" y="580.91" width="4.2" height="4.2" fill="#3b5a96"/>
<rect x="452.2" y="582.73" width="4.2" height="4.2" fill="#3b5a96"/>
<rect x="455.74" y="584.54" width="4.2" height="4.2" fill="#3b5a96"/>
<line x1="467.1" y1="554.55" x2="467.1" y2="568.48" stroke="#edbb5c" stroke-width="1"/>
<line x1="464.03" y1="554.55" x2="470.17" y2="554.55" stroke="#edbb5c" stroke-width="1"/>
<line x1="464.03" y1="568.48" x2="470.17" y2="568.48" stroke="#edbb5c" stroke-width="1"/>
<path d="M467.1 552.26L469.4 556.55L464.8 556.55Z" fill="#e8a93a"/>
<path d="M465.33 563.15L467.63 567.44L463.03 567.44Z" fill="#e8a93a"/>
<path d="M468.87 566.18L471.17 570.47L466.57 570.47Z" fill="#e8a93a"/>
<line x1="492.1" y1="549.71" x2="492.1" y2="556.37" stroke="#dc4f58" stroke-width="1"/>
<line x1="489.03" y1="549.71" x2="495.17" y2="549.71" stroke="#dc4f58" stroke-width="1"/>
<line x1="489.03" y1="556.37" x2="495.17" y2="556.37" stroke="#dc4f58" stroke-width="1"/>
<circle cx="492.1" cy="549.71" r="2.1" fill="#d42a2e"/>
<circle cx="490.33" cy="555.76" r="2.1" fill="#d42a2e"/>
<circle cx="493.87" cy="556.37" r="2.1" fill="#d42a2e"/>
<line x1="505.5" y1="606.62" x2="505.5" y2="610.26" stroke="#6381b5" stroke-width="1"/>
<line x1="502.43" y1="606.62" x2="508.57" y2="606.62" stroke="#6381b5" stroke-width="1"/>
<line x1="502.43" y1="610.26" x2="508.57" y2="610.26" stroke="#6381b5" stroke-width="1"/>
<rect x="499.86" y="604.52" width="4.2" height="4.2" fill="#3b5a96"/>
<rect x="503.4" y="606.34" width="4.2" height="4.2" fill="#3b5a96"/>
<rect x="506.94" y="608.16" width="4.2" height="4.2" fill="#3b5a96"/>
<line x1="518.3" y1="581.19" x2="518.3" y2="587.25" stroke="#edbb5c" stroke-width="1"/>
<line x1="515.23" y1="581.19" x2="521.37" y2="581.19" stroke="#edbb5c" stroke-width="1"/>
<line x1="515.23" y1="587.25" x2="521.37" y2="587.25" stroke="#edbb5c" stroke-width="1"/>
<path d="M514.76 578.9L517.06 583.19L512.46 583.19Z" fill="#e8a93a"/>
<path d="M518.3 582.53L520.6 586.82L516 586.82Z" fill="#e8a93a"/>
<path d="M521.84 584.95L524.14 589.24L519.54 589.24Z" fill="#e8a93a"/>
<line x1="374.5" y1="493.5" x2="374.5" y2="616" stroke="#333" stroke-width="1"/>
<line x1="374" y1="615.5" x2="528.4" y2="615.5" stroke="#333" stroke-width="1"/>
<line x1="370.7" y1="615.5" x2="374.5" y2="615.5" stroke="#333" stroke-width="1"/>
<text x="369" y="618.12" font-size="8.4" text-anchor="end" font-weight="bold" fill="#111">0.0</text>
<line x1="370.7" y1="584.5" x2="374.5" y2="584.5" stroke="#333" stroke-width="1"/>
<text x="369" y="587.85" font-size="8.4" text-anchor="end" font-weight="bold" fill="#111">0.5</text>
<line x1="370.7" y1="554.5" x2="374.5" y2="554.5" stroke="#333" stroke-width="1"/>
<text x="369" y="557.57" font-size="8.4" text-anchor="end" font-weight="bold" fill="#111">1.0</text>
<line x1="370.7" y1="524.5" x2="374.5" y2="524.5" stroke="#333" stroke-width="1"/>
<text x="369" y="527.3" font-size="8.4" text-anchor="end" font-weight="bold" fill="#111">1.5</text>
<line x1="370.7" y1="494.5" x2="374.5" y2="494.5" stroke="#333" stroke-width="1"/>
<text x="369" y="497.02" font-size="8.4" text-anchor="end" font-weight="bold" fill="#111">2.0</text>
<line x1="402.6" y1="615.5" x2="402.6" y2="619" stroke="#333" stroke-width="1"/>
<line x1="453.8" y1="615.5" x2="453.8" y2="619" stroke="#333" stroke-width="1"/>
<line x1="505" y1="615.5" x2="505" y2="619" stroke="#333" stroke-width="1"/>
<line x1="383.8" y1="547.8" x2="399.8" y2="547.8" stroke="#333" stroke-width="0.9"/>
<text x="391.8" y="548.2" font-size="7.8" text-anchor="middle" fill="#111">***</text>
<line x1="401" y1="513" x2="418" y2="513" stroke="#333" stroke-width="0.9"/>
<text x="409.5" y="513.4" font-size="7.8" text-anchor="middle" fill="#111">****</text>
<line x1="435.6" y1="547.8" x2="452.6" y2="547.8" stroke="#333" stroke-width="0.9"/>
<text x="444.1" y="548.2" font-size="7.8" text-anchor="middle" fill="#111">****</text>
<line x1="454.2" y1="552" x2="470.8" y2="552" stroke="#333" stroke-width="0.9"/>
<text x="462.5" y="552.4" font-size="7.8" text-anchor="middle" fill="#111">**</text>
<line x1="486.8" y1="547.2" x2="504.4" y2="547.2" stroke="#333" stroke-width="0.9"/>
<text x="495.6" y="547.6" font-size="7.8" text-anchor="middle" fill="#111">****</text>
<line x1="507.6" y1="578.2" x2="523.6" y2="578.2" stroke="#333" stroke-width="0.9"/>
<text x="515.6" y="578.6" font-size="7.8" text-anchor="middle" fill="#111">***</text>
<text x="405.5" y="626.8" font-size="9" text-anchor="end" font-weight="bold" fill="#111" transform="rotate(-45 405.5 626.8)">CD44</text>
<text x="456.7" y="626.8" font-size="9" text-anchor="end" font-weight="bold" fill="#111" transform="rotate(-45 456.7 626.8)">Nanog</text>
<text x="507.9" y="626.8" font-size="9" text-anchor="end" font-weight="bold" fill="#111" transform="rotate(-45 507.9 626.8)">Sox2</text>
<text x="350.1" y="550.5" font-size="10" text-anchor="middle" font-weight="bold" fill="#111" transform="rotate(-90 350.1 550.5)" textLength="125" lengthAdjust="spacingAndGlyphs">Relative mRNA expression</text>
<text x="574.16" y="518.2" font-size="7.2" font-weight="bold" fill="#111" transform="rotate(-45 574.16 518.2)">V2</text>
<text x="592.86" y="517.1" font-size="7.2" font-weight="bold" fill="#111" transform="rotate(-45 592.86 517.1)">PLOD2-KO</text>
<text x="610.26" y="517.1" font-size="7.2" font-weight="bold" fill="#111" transform="rotate(-45 610.26 517.1)">PLOD2-KO+isoform2</text>
<rect x="566.3" y="520.1" width="52.9" height="14.7" fill="#f6f6f6"/>
<rect x="569.7" y="523.7" width="14.2" height="7.8" rx="4.73" ry="3.9" fill="#000" opacity="1.00" filter="url(#bl0)"/>
<rect x="587.2" y="524.75" width="12.2" height="6.1" rx="4.07" ry="3.05" fill="#000" opacity="0.90" filter="url(#bl0)"/>
<rect x="602.75" y="524" width="12.9" height="6.8" rx="4.3" ry="3.4" fill="#000" opacity="1.00" filter="url(#bl0)"/>
<rect x="566.5" y="520.5" width="52" height="14" fill="none" stroke="#2b2626" stroke-width="1.05"/>
<text x="565.4" y="530.69" font-size="9" text-anchor="end" fill="#444">CD44</text>
<text x="621.6" y="530.65" font-size="8.9" fill="#333">80KDa</text>
<rect x="566.3" y="539.45" width="52.9" height="14.7" fill="#f6f6f6"/>
<rect x="569.75" y="544.85" width="13.5" height="5.3" rx="3.97" ry="2.65" fill="#000" opacity="1.00" filter="url(#bl0)"/>
<rect x="586.2" y="545.75" width="10.6" height="2.9" rx="2.17" ry="1.45" fill="#000" opacity="0.75" filter="url(#bl1)"/>
<rect x="603" y="543.35" width="13" height="3.7" rx="2.78" ry="1.85" fill="#000" opacity="0.95" filter="url(#bl0)"/>
<rect x="566.5" y="539.5" width="52" height="14" fill="none" stroke="#2b2626" stroke-width="1.05"/>
<text x="565.4" y="550.04" font-size="9" text-anchor="end" fill="#444">Nanog</text>
<text x="621.6" y="550" font-size="8.9" fill="#333">42KDa</text>
<rect x="566.3" y="558.8" width="52.9" height="14.7" fill="#f4f4f4"/>
<rect x="571.7" y="564.85" width="8.4" height="4.5" rx="2.8" ry="2.25" fill="#000" opacity="0.90" filter="url(#bl0)"/>
<rect x="588.7" y="565.95" width="10.6" height="2.1" rx="1.58" ry="1.05" fill="#000" opacity="0.10" filter="url(#bl1)"/>
<rect x="603.35" y="564.5" width="12.9" height="3.6" rx="2.7" ry="1.8" fill="#000" opacity="0.45" filter="url(#bl0)"/>
<rect x="566.5" y="559.5" width="52" height="14" fill="none" stroke="#2b2626" stroke-width="1.05"/>
<text x="565.4" y="569.39" font-size="9" text-anchor="end" fill="#444">Oct4</text>
<text x="621.6" y="569.35" font-size="8.9" fill="#333">45KDa</text>
<rect x="566.3" y="578.15" width="52.9" height="14.7" fill="#d2d2d2"/>
<rect x="569.2" y="582.3" width="13.6" height="6" rx="4.5" ry="3" fill="#000" opacity="0.60" filter="url(#bl0)"/>
<rect x="588.7" y="583.7" width="10.6" height="3.6" rx="2.7" ry="1.8" fill="#000" opacity="0.10" filter="url(#bl0)"/>
<rect x="602.9" y="582.8" width="13.6" height="6" rx="4.5" ry="3" fill="#000" opacity="0.80" filter="url(#bl0)"/>
<rect x="566.5" y="578.5" width="52" height="14" fill="none" stroke="#2b2626" stroke-width="1.05"/>
<text x="565.4" y="588.74" font-size="9" text-anchor="end" fill="#444">Bmi-1</text>
<text x="621.6" y="588.7" font-size="8.9" fill="#333">43KDa</text>
<rect x="566.3" y="597.5" width="52.9" height="14.7" fill="#f6f6f6"/>
<rect x="570" y="602.1" width="14.6" height="5.2" rx="3.9" ry="2.6" fill="#000" opacity="1.00" filter="url(#bl0)"/>
<rect x="586.9" y="602.1" width="13.6" height="5.2" rx="3.9" ry="2.6" fill="#000" opacity="1.00" filter="url(#bl0)"/>
<rect x="601.7" y="602.1" width="15.6" height="5.2" rx="3.9" ry="2.6" fill="#000" opacity="1.00" filter="url(#bl0)"/>
<rect x="566.5" y="598.5" width="52" height="13" fill="none" stroke="#2b2626" stroke-width="1.05"/>
<text x="565.4" y="608.09" font-size="9" text-anchor="end" fill="#444">β-actin</text>
<text x="621.6" y="608.05" font-size="8.9" fill="#333">42KDa</text>
</svg></body></html>
